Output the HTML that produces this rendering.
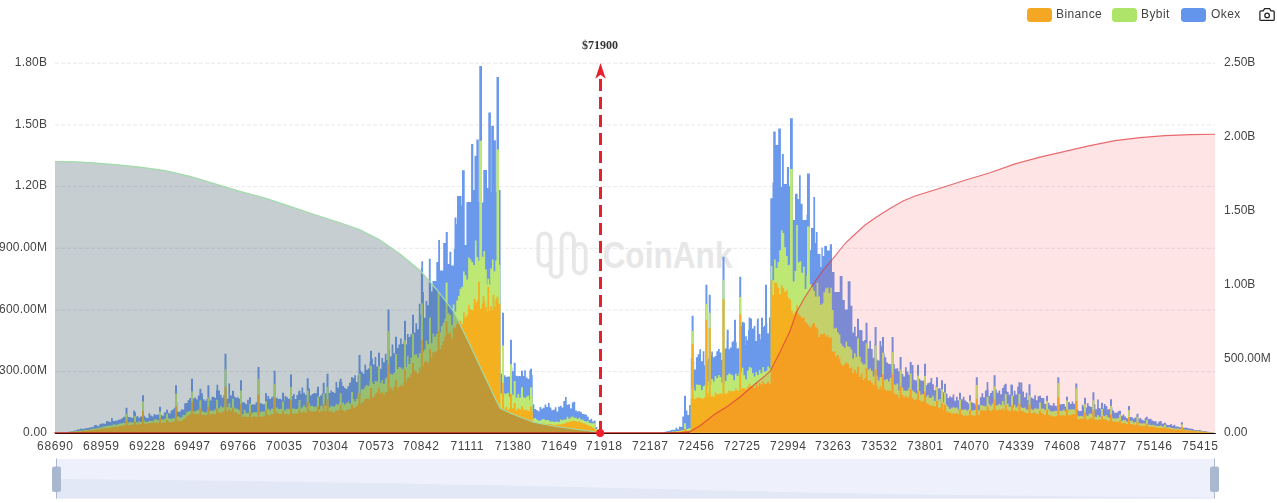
<!DOCTYPE html>
<html><head><meta charset="utf-8"><title>Liquidation Map</title>
<style>
html,body{margin:0;padding:0;background:#fff;}
body{width:1277px;height:503px;position:relative;overflow:hidden;font-family:"Liberation Sans",sans-serif;font-size:12px;color:#444;}
svg{position:absolute;left:0;top:0;}
.yl{position:absolute;left:-40px;width:87.2px;letter-spacing:.2px;text-align:right;height:16px;line-height:16px;white-space:nowrap;}
.yr{position:absolute;left:1223.5px;height:16px;line-height:16px;white-space:nowrap;}
.xl{position:absolute;top:438.4px;width:60px;text-align:center;height:16px;line-height:16px;letter-spacing:.6px;text-indent:.6px;}
.lg{position:absolute;top:6.4px;height:16px;line-height:16px;white-space:nowrap;letter-spacing:.4px;}
.yl,.yr,.xl,.lg,.mk{will-change:transform;}
.sw{position:absolute;top:8px;width:25px;height:14px;border-radius:3.5px;}
.mk{position:absolute;left:560px;width:80px;top:36.6px;text-align:center;font-family:"Liberation Serif",serif;font-weight:bold;font-size:12px;line-height:16px;color:#333;}
</style></head><body>
<svg width="1277" height="503" viewBox="0 0 1277 503">
<line x1="55" y1="371.63" x2="1215" y2="371.63" stroke="#e8e9ec" stroke-width="1" stroke-dasharray="4 2"/>
<line x1="55" y1="309.96" x2="1215" y2="309.96" stroke="#e8e9ec" stroke-width="1" stroke-dasharray="4 2"/>
<line x1="55" y1="248.29" x2="1215" y2="248.29" stroke="#e8e9ec" stroke-width="1" stroke-dasharray="4 2"/>
<line x1="55" y1="186.62" x2="1215" y2="186.62" stroke="#e8e9ec" stroke-width="1" stroke-dasharray="4 2"/>
<line x1="55" y1="124.95" x2="1215" y2="124.95" stroke="#e8e9ec" stroke-width="1" stroke-dasharray="4 2"/>
<line x1="55" y1="63.28" x2="1215" y2="63.28" stroke="#e8e9ec" stroke-width="1" stroke-dasharray="4 2"/>
<g opacity="1"><path d="M538.4,239.45 a6.15,6.15 0 0 1 12.3,0 V259.65 a6.15,6.15 0 0 1 -12.3,0 Z M550.7,259.65 V271.65 a5.45,5.45 0 0 0 10.9,0 V239.45 a6.15,6.15 0 0 1 12.3,0 V267.5 M573.9,249.8 a5.9,5.9 0 0 1 11.8,0 V267.5 a5.9,5.9 0 0 1 -11.8,0 Z" fill="none" stroke="#e7e7e7" stroke-width="3.8" stroke-linecap="round"/><text x="602.5" y="267.6" font-family="Liberation Sans, sans-serif" font-weight="bold" font-size="36" fill="#e7e7e7" textLength="130" lengthAdjust="spacingAndGlyphs">CoinAnk</text></g>
<path d="M55,432.8L55,432.8L56.7,432.8L56.7,432.8L58.4,432.8L58.4,432.8L60.1,432.8L60.1,432.8L61.8,432.8L61.8,432.8L63.5,432.8L63.5,432.8L65.2,432.8L65.2,432.8L66.9,432.8L66.9,432.3L68.6,432.3L68.6,431.7L70.3,431.7L70.3,431.4L72,431.4L72,431.2L73.7,431.2L73.7,430.4L75.4,430.4L75.4,430.3L77.1,430.3L77.1,429.5L78.8,429.5L78.8,429.2L80.5,429.2L80.5,428.6L82.2,428.6L82.2,429.1L83.9,429.1L83.9,428.4L85.6,428.4L85.6,428.2L87.3,428.2L87.3,428L89,428L89,427.5L90.7,427.5L90.7,427.2L92.4,427.2L92.4,426.8L94.1,426.8L94.1,425L95.8,425L95.8,425.3L97.5,425.3L97.5,426.2L99.2,426.2L99.2,424.3L100.9,424.3L100.9,423.4L102.6,423.4L102.6,423.4L104.3,423.4L104.3,423.7L106,423.7L106,421.1L107.7,421.1L107.7,421.6L109.4,421.6L109.4,422L111.1,422L111.1,418L112.8,418L112.8,421L114.5,421L114.5,420.8L116.2,420.8L116.2,420.4L117.9,420.4L117.9,419.7L119.6,419.7L119.6,419.2L121.3,419.2L121.3,418.2L123,418.2L123,416.8L124.7,416.8L124.7,417.1L125.5,417.1L125.5,407.8L126.4,407.8L126.4,407.8L127.5,407.8L127.5,415.4L128.1,415.4L128.1,416.9L129.8,416.9L129.8,417.2L131.5,417.2L131.5,418L133.2,418L133.2,410.6L134,410.6L134,410.6L134.9,410.6L134.9,412.3L136,412.3L136,417.2L136.6,417.2L136.6,415.9L138.3,415.9L138.3,417.8L140,417.8L140,416.5L141.7,416.5L141.7,416.5L142,416.5L142,395.3L143.4,395.3L143.4,395.3L144,395.3L144,415.7L145.1,415.7L145.1,417.5L146.8,417.5L146.8,418.1L148.5,418.1L148.5,413.3L150.2,413.3L150.2,415.5L151.9,415.5L151.9,416.4L153.6,416.4L153.6,414.1L155.3,414.1L155.3,415L157,415L157,414.6L158.7,414.6L158.7,414.7L159,414.7L159,406.8L160.4,406.8L160.4,406.8L161,406.8L161,415L162.1,415L162.1,415.8L163.8,415.8L163.8,412.6L165.5,412.6L165.5,412.4L166,412.4L166,409.8L167.2,409.8L167.2,409.8L168,409.8L168,412.7L168.9,412.7L168.9,413.6L170.6,413.6L170.6,410.5L172.3,410.5L172.3,409.3L174,409.3L174,407.8L175,407.8L175,385.2L175.7,385.2L175.7,385.2L177,385.2L177,402.6L177.4,402.6L177.4,411.8L179.1,411.8L179.1,411.6L180.8,411.6L180.8,409.5L182.5,409.5L182.5,409.6L184.2,409.6L184.2,403.3L185.9,403.3L185.9,402.9L187.6,402.9L187.6,400.3L189.3,400.3L189.3,398L191,398L191,393L191,393L191,378.8L192.7,378.8L192.7,378.8L193,378.8L193,398.6L194.4,398.6L194.4,397.4L196.1,397.4L196.1,399.5L197.8,399.5L197.8,395.6L199.4,395.6L199.4,388.8L199.5,388.8L199.5,388.8L201.2,388.8L201.2,388.8L201.4,388.8L201.4,393.3L202.9,393.3L202.9,399.2L204.6,399.2L204.6,400.7L206.3,400.7L206.3,399.1L207.4,399.1L207.4,385.2L208,385.2L208,385.2L209.4,385.2L209.4,397.7L209.7,397.7L209.7,400.5L211.4,400.5L211.4,396.8L213.1,396.8L213.1,396.9L214.8,396.9L214.8,398.1L216,398.1L216,390.2L216.5,390.2L216.5,384.7L218,384.7L218,384.7L218.2,384.7L218.2,390.5L219.9,390.5L219.9,394.8L221.6,394.8L221.6,397.8L223.3,397.8L223.3,395.2L224.5,395.2L224.5,353.8L225,353.8L225,353.8L226.5,353.8L226.5,390.9L226.7,390.9L226.7,398.7L228.4,398.7L228.4,383.4L230.1,383.4L230.1,395.5L231.8,395.5L231.8,395.1L232,395.1L232,390.8L233.5,390.8L233.5,390.8L234,390.8L234,396.4L235.2,396.4L235.2,397.8L236.9,397.8L236.9,397.3L238.6,397.3L238.6,398.7L240,398.7L240,380.2L240.3,380.2L240.3,380.2L242,380.2L242,380.2L242,380.2L242,402.3L243.7,402.3L243.7,402.6L245.4,402.6L245.4,404.2L247.1,404.2L247.1,399.8L248.8,399.8L248.8,403.4L249,403.4L249,397.2L250.5,397.2L250.5,397.2L251,397.2L251,404.8L252.2,404.8L252.2,404.3L253.9,404.3L253.9,404.6L255.6,404.6L255.6,402.2L257.3,402.2L257.3,400.7L257.5,400.7L257.5,367.1L259,367.1L259,367.1L259.5,367.1L259.5,403.1L260.7,403.1L260.7,403.4L262.4,403.4L262.4,404.2L264.1,404.2L264.1,404.3L265,404.3L265,393.2L265.8,393.2L265.8,393.2L267,393.2L267,399.1L267.5,399.1L267.5,395.9L269.2,395.9L269.2,398.9L270.9,398.9L270.9,397.5L272.6,397.5L272.6,396.2L273.6,396.2L273.6,370.8L274.3,370.8L274.3,370.8L275.6,370.8L275.6,399.3L276,399.3L276,397.7L277.7,397.7L277.7,398.9L279.4,398.9L279.4,398.7L281.1,398.7L281.1,400L282,400L282,392.8L282.8,392.8L282.8,392.8L284,392.8L284,400.7L284.5,400.7L284.5,395.9L286.2,395.9L286.2,397.3L287.9,397.3L287.9,398.8L289.6,398.8L289.6,398.9L290,398.9L290,374.4L291.3,374.4L291.3,374.4L292,374.4L292,396L293,396L293,394.1L294.7,394.1L294.7,399L296.4,399L296.4,395L298.1,395L298.1,391.8L298.5,391.8L298.5,390.8L299.8,390.8L299.8,390.8L300.5,390.8L300.5,394.1L301.5,394.1L301.5,387.5L303.2,387.5L303.2,392.7L304.9,392.7L304.9,394.8L306.6,394.8L306.6,394.5L306.7,394.5L306.7,378.2L308.3,378.2L308.3,378.2L308.7,378.2L308.7,388.6L310,388.6L310,395.5L311.7,395.5L311.7,394.1L313.4,394.1L313.4,392.9L315.1,392.9L315.1,393.2L316.8,393.2L316.8,389.8L317,389.8L317,386.8L318.5,386.8L318.5,386.8L319,386.8L319,397.1L320.2,397.1L320.2,395.3L321.9,395.3L321.9,392.9L322.7,392.9L322.7,382.8L323.6,382.8L323.6,382.8L324.7,382.8L324.7,394L325.3,394L325.3,393.3L326.5,393.3L326.5,373.8L327,373.8L327,373.8L328.5,373.8L328.5,391.3L328.7,391.3L328.7,393L330.4,393L330.4,390.6L332.1,390.6L332.1,392L333.8,392L333.8,393L335.5,393L335.5,381.9L337.2,381.9L337.2,387.7L338.9,387.7L338.9,381.5L339.7,381.5L339.7,378.8L340.6,378.8L340.6,378.8L341.7,378.8L341.7,382.3L342.3,382.3L342.3,385.9L344,385.9L344,387.8L345.7,387.8L345.7,389L347.4,389L347.4,386.2L349.1,386.2L349.1,382.5L350.8,382.5L350.8,382.7L351,382.7L351,377.2L352.5,377.2L352.5,377.2L353,377.2L353,378.3L354.2,378.3L354.2,375.3L355.9,375.3L355.9,382L357.6,382L357.6,375.4L358.5,375.4L358.5,355.1L359.3,355.1L359.3,355.1L360.5,355.1L360.5,370.2L361,370.2L361,372L362.7,372L362.7,373.7L364.4,373.7L364.4,364.6L366.1,364.6L366.1,369.7L367.8,369.7L367.8,368.6L369.5,368.6L369.5,361.6L370,361.6L370,350.8L371.2,350.8L371.2,350.8L372,350.8L372,358.7L372.9,358.7L372.9,364.6L374.6,364.6L374.6,357L376.3,357L376.3,366.6L378,366.6L378,359.3L378,359.3L378,352.8L379.7,352.8L379.7,352.8L380,352.8L380,368.7L381.4,368.7L381.4,357.9L383.1,357.9L383.1,362.2L384.8,362.2L384.8,353.7L386.5,353.7L386.5,360.1L387.5,360.1L387.5,309.4L388.2,309.4L388.2,309.4L389.5,309.4L389.5,349.1L389.9,349.1L389.9,356.4L391.6,356.4L391.6,344.4L393.3,344.4L393.3,353.2L395,353.2L395,356L395,356L395,336.8L396.7,336.8L396.7,336.8L397,336.8L397,347.9L398.4,347.9L398.4,344.6L400.1,344.6L400.1,338.6L401.8,338.6L401.8,343.9L403.5,343.9L403.5,341.1L404,341.1L404,320.8L405.2,320.8L405.2,320.8L406,320.8L406,344.5L406.9,344.5L406.9,334.1L408.6,334.1L408.6,337L410.3,337L410.3,334.2L412,334.2L412,331.7L412,331.7L412,314.8L413.7,314.8L413.7,314.8L414,314.8L414,332.8L415.4,332.8L415.4,323.3L417.1,323.3L417.1,329.3L418.8,329.3L418.8,303.8L420.5,303.8L420.5,314.4L420.9,314.4L420.9,267.8L421.3,267.8L421.3,261.2L422.2,261.2L422.2,261.2L422.9,261.2L422.9,261.2L423.1,261.2L423.1,292L423.9,292L423.9,317.7L425.6,317.7L425.6,301L427.3,301L427.3,305.3L428.8,305.3L428.8,258.7L429,258.7L429,258.7L429,258.7L429,258.7L430.7,258.7L430.7,258.7L430.7,258.7L430.7,282.8L431,282.8L431,291.5L432.4,291.5L432.4,292.2L432.5,292.2L432.5,281L434.1,281L434.1,281L435.8,281L435.8,281L436.3,281L436.3,262L437.5,262L437.5,262L437.6,262L437.6,262L438.2,262L438.2,240L439.2,240L439.2,240L439.6,240L439.6,240L440,240L440,270.6L440.9,270.6L440.9,270.6L442.6,270.6L442.6,270.6L443.2,270.6L443.2,243L444.3,243L444.3,243L445.6,243L445.6,243L445.7,243L445.7,232L446,232L446,232L447.6,232L447.6,232L447.7,232L447.7,232L447.8,232L447.8,264L449.4,264L449.4,264L449.4,264L449.4,251.8L451.1,251.8L451.1,251.8L451.3,251.8L451.3,265.6L452.8,265.6L452.8,265.6L453.8,265.6L453.8,249.2L454.5,249.2L454.5,240.3L454.5,240.3L454.5,217.6L456.2,217.6L456.2,217.6L456.5,217.6L456.5,224.2L457,224.2L457,196L457.9,196L457.9,196L459.6,196L459.6,196L461.3,196L461.3,196L461.5,196L461.5,205.5L462,205.5L462,170.3L463,170.3L463,170.3L464.7,170.3L464.7,170.3L464.7,170.3L464.7,245L466.4,245L466.4,245L466.4,245L466.4,202L468.1,202L468.1,202L469.8,202L469.8,202L471.1,202L471.1,144L471.5,144L471.5,144L473.2,144L473.2,144L473.3,144L473.3,190L473.6,190L473.6,190L474.5,190L474.5,155.8L474.9,155.8L474.9,155.8L475.4,155.8L475.4,155.8L476.4,155.8L476.4,139.6L476.6,139.6L476.6,139.6L478.1,139.6L478.1,139.6L478.3,139.6L478.3,139.6L478.8,139.6L478.8,202L479.3,202L479.3,66L479.9,66L479.9,66L480,66L480,66L481.7,66L481.7,66L482,66L482,202.5L482.6,202.5L482.6,202.5L483.3,202.5L483.3,170L483.4,170L483.4,170L484.4,170L484.4,170L485.1,170L485.1,170L486.8,170L486.8,170L487,170L487,188L487.4,188L487.4,188L488.3,188L488.3,112.5L488.5,112.5L488.5,112.5L489.2,112.5L489.2,112.5L490.2,112.5L490.2,112.5L490.9,112.5L490.9,191.9L491.2,191.9L491.2,125.8L491.9,125.8L491.9,125.8L492.6,125.8L492.6,125.8L493.6,125.8L493.6,125.8L493.9,125.8L493.9,140.2L494.4,140.2L494.4,140.2L495.3,140.2L495.3,140.2L495.9,140.2L495.9,191.7L496.5,191.7L496.5,77L496.6,77L496.6,77L497,77L497,77L498.4,77L498.4,77L498.7,77L498.7,77L499,77L499,190L500.4,190L500.4,190L500.6,190L500.6,373.5L502,373.5L502,312.8L502.1,312.8L502.1,312.8L503.8,312.8L503.8,312.8L504,312.8L504,375.2L505.5,375.2L505.5,376.9L507.2,376.9L507.2,376.5L508.9,376.5L508.9,376.6L510,376.6L510,339.8L510.6,339.8L510.6,339.8L512,339.8L512,367.6L512.3,367.6L512.3,371.3L513.7,371.3L513.7,362.8L514,362.8L514,362.8L515.7,362.8L515.7,362.8L515.7,362.8L515.7,375.8L517.4,375.8L517.4,376.2L519.1,376.2L519.1,375.9L520.8,375.9L520.8,377.1L521,377.1L521,370.8L522.5,370.8L522.5,370.8L523,370.8L523,376L524.2,376L524.2,370.3L525.9,370.3L525.9,377.4L527.6,377.4L527.6,378.9L529.3,378.9L529.3,370.5L530,370.5L530,368.8L531,368.8L531,368.8L532,368.8L532,374.9L532.7,374.9L532.7,404.2L534.4,404.2L534.4,409L536.1,409L536.1,409.9L537.8,409.9L537.8,411.2L539.5,411.2L539.5,406.9L541.2,406.9L541.2,408.8L542.9,408.8L542.9,407.8L544.6,407.8L544.6,404.6L546.3,404.6L546.3,407L548,407L548,403.1L549.7,403.1L549.7,407.5L551.4,407.5L551.4,410.3L553.1,410.3L553.1,409.8L554.8,409.8L554.8,407.3L556.5,407.3L556.5,411.5L558.2,411.5L558.2,406.7L559.9,406.7L559.9,405.8L561.6,405.8L561.6,407.6L563.3,407.6L563.3,400.9L565,400.9L565,396.9L566.7,396.9L566.7,404.8L568.4,404.8L568.4,404.3L570.1,404.3L570.1,408.5L571.8,408.5L571.8,402.5L573.5,402.5L573.5,401.8L575.2,401.8L575.2,410.6L576.9,410.6L576.9,411.5L578.6,411.5L578.6,411.1L580.3,411.1L580.3,412.3L582,412.3L582,414.1L583.7,414.1L583.7,414.3L585.4,414.3L585.4,414.8L587.1,414.8L587.1,416.7L588.8,416.7L588.8,420L590.5,420L590.5,418.8L592.2,418.8L592.2,421.5L593.9,421.5L593.9,420.4L595.6,420.4L595.6,426.9L597.3,426.9L597.3,430.6L599,430.6L599,432.8L600.7,432.8L600.7,432.8L602.4,432.8L602.4,432.8L604.1,432.8L604.1,432.8L605.8,432.8L605.8,432.8L607.5,432.8L607.5,432.8L609.2,432.8L609.2,432.8L610.9,432.8L610.9,432.8L612.6,432.8L612.6,432.8L614.3,432.8L614.3,432.8L616,432.8L616,432.8L617.7,432.8L617.7,432.8L619.4,432.8L619.4,432.8L621.1,432.8L621.1,432.8L622.8,432.8L622.8,432.8L624.5,432.8L624.5,432.8L626.2,432.8L626.2,432.8L627.9,432.8L627.9,432.8L629.6,432.8L629.6,432.8L631.3,432.8L631.3,432.8L633,432.8L633,432.8L634.7,432.8L634.7,432.8L636.4,432.8L636.4,432.8L638.1,432.8L638.1,432.8L639.8,432.8L639.8,432.8L641.5,432.8L641.5,432.8L643.2,432.8L643.2,432.8L644.9,432.8L644.9,432.8L646.6,432.8L646.6,432.8L648.3,432.8L648.3,432.8L650,432.8L650,432.8L651.7,432.8L651.7,432.8L653.4,432.8L653.4,432.8L655.1,432.8L655.1,432.8L656.8,432.8L656.8,432.8L658.5,432.8L658.5,432.8L660.2,432.8L660.2,432.7L661.9,432.7L661.9,432.4L663.6,432.4L663.6,432.3L665.3,432.3L665.3,431.5L667,431.5L667,431.3L668.7,431.3L668.7,430.9L670.4,430.9L670.4,430.1L672.1,430.1L672.1,429.8L673.8,429.8L673.8,429.8L675.5,429.8L675.5,427.8L677.2,427.8L677.2,429.3L678.9,429.3L678.9,426.6L680.6,426.6L680.6,426.9L682.3,426.9L682.3,416.6L684,416.6L684,395.8L684,395.8L684,395.8L685.7,395.8L685.7,395.8L686,395.8L686,410.5L687.4,410.5L687.4,415L689.1,415L689.1,405.1L690.8,405.1L690.8,357.9L691.6,357.9L691.6,315.8L692.5,315.8L692.5,315.8L693.6,315.8L693.6,361.1L694.2,361.1L694.2,369.6L695.9,369.6L695.9,357.3L697.6,357.3L697.6,354.2L699.3,354.2L699.3,349.2L701,349.2L701,361.2L702.7,361.2L702.7,351.2L704.4,351.2L704.4,365.5L705.4,365.5L705.4,284.8L706.1,284.8L706.1,284.8L707.4,284.8L707.4,360.5L707.8,360.5L707.8,358.4L708.7,358.4L708.7,294.8L709.5,294.8L709.5,294.8L710.7,294.8L710.7,355.4L711.2,355.4L711.2,351.6L712.9,351.6L712.9,357.3L714.6,357.3L714.6,356.1L716.3,356.1L716.3,351.2L718,351.2L718,349L719.7,349L719.7,352.5L721.4,352.5L721.4,359.9L722.5,359.9L722.5,256.8L723.1,256.8L723.1,256.8L724.5,256.8L724.5,350.9L724.8,350.9L724.8,348.6L726.5,348.6L726.5,340.3L726.7,340.3L726.7,329.8L728.2,329.8L728.2,329.8L728.7,329.8L728.7,349.3L729.9,349.3L729.9,347.4L731.6,347.4L731.6,341.7L733.3,341.7L733.3,340.4L734,340.4L734,319.8L735,319.8L735,319.8L736,319.8L736,342.3L736.7,342.3L736.7,348.6L738.4,348.6L738.4,347.4L739.2,347.4L739.2,276.8L740.1,276.8L740.1,276.8L741.2,276.8L741.2,325.5L741.8,325.5L741.8,321.7L743,321.7L743,321.7L743.5,321.7L743.5,322.8L745,322.8L745,344.9L745.2,344.9L745.2,336.3L746.9,336.3L746.9,340.2L748,340.2L748,329.8L748.6,329.8L748.6,317.6L750,317.6L750,317.6L750.3,317.6L750.3,318.6L752,318.6L752,328.4L753.7,328.4L753.7,326L755.4,326L755.4,340.9L756.8,340.9L756.8,319.8L757.1,319.8L757.1,318.6L758.8,318.6L758.8,318.6L758.8,318.6L758.8,333.9L760.5,333.9L760.5,339.5L761,339.5L761,317.8L762.2,317.8L762.2,317.8L763,317.8L763,327.1L763.9,327.1L763.9,325.7L765,325.7L765,284.8L765.6,284.8L765.6,284.8L767,284.8L767,322.9L767.3,322.9L767.3,333.3L769,333.3L769,317.6L770.3,317.6L770.3,198.2L770.7,198.2L770.7,198.2L772.4,198.2L772.4,198.2L772.5,198.2L772.5,182.5L773.2,182.5L773.2,131.4L774.1,131.4L774.1,131.4L775.7,131.4L775.7,145L775.8,145L775.8,145L777.5,145L777.5,145L778.2,145L778.2,128.5L779.2,128.5L779.2,128.5L780.9,128.5L780.9,187L780.9,187L780.9,187L781.9,187L781.9,154L782.6,154L782.6,154L783.8,154L783.8,184L784.3,184L784.3,184L786,184L786,184L786.9,184L786.9,167L787.7,167L787.7,167L789,167L789,186L789.4,186L789.4,186L790,186L790,118.3L791.1,118.3L791.1,118.3L792.8,118.3L792.8,220L792.8,220L792.8,220L794.5,220L794.5,220L795,220L795,193.8L796.2,193.8L796.2,193.8L797.6,193.8L797.6,199L797.9,199L797.9,199L799,199L799,175.3L799.6,175.3L799.6,175.3L800.7,175.3L800.7,203.8L801.3,203.8L801.3,203.8L802.6,203.8L802.6,220L803,220L803,220L804.7,220L804.7,220L806.4,220L806.4,220L806.5,220L806.5,214.7L807,214.7L807,173.4L808.1,173.4L808.1,173.4L809.8,173.4L809.8,173.4L809.9,173.4L809.9,250L811,250L811,228L811.5,228L811.5,228L813.2,228L813.2,228L813.4,228L813.4,197L814.9,197L814.9,197L815.1,197L815.1,243L815.8,243L815.8,232L816.6,232L816.6,232L817.6,232L817.6,254L818.3,254L818.3,254L820,254L820,254L820.5,254L820.5,267L821.4,267L821.4,247.6L821.7,247.6L821.7,247.6L822.8,247.6L822.8,256L823.4,256L823.4,256L824.2,256L824.2,246L825.1,246L825.1,246L826.8,246L826.8,246L827,246L827,250.4L828.5,250.4L828.5,250.4L829.8,250.4L829.8,244.3L830.2,244.3L830.2,244.3L831.9,244.3L831.9,244.3L832,244.3L832,272L833.6,272L833.6,272L834.5,272L834.5,292L835.3,292L835.3,292L837,292L837,292L838.7,292L838.7,292L839.7,292L839.7,276L840.4,276L840.4,276L842.1,276L842.1,276L842.5,276L842.5,300L843.8,300L843.8,300L844.8,300L844.8,309.5L845.5,309.5L845.5,309.5L847.2,309.5L847.2,309.5L847.7,309.5L847.7,281.3L848.9,281.3L848.9,281.3L850.5,281.3L850.5,305.7L850.6,305.7L850.6,305.7L852.3,305.7L852.3,305.7L852.4,305.7L852.4,332.6L854,332.6L854,326.8L855.7,326.8L855.7,336.6L857,336.6L857,318.8L857.4,318.8L857.4,318.8L859,318.8L859,339.2L859.1,339.2L859.1,329.9L860.8,329.9L860.8,330.3L862.5,330.3L862.5,341.3L864.2,341.3L864.2,340.1L865.5,340.1L865.5,322.8L865.9,322.8L865.9,322.8L867.5,322.8L867.5,331.8L867.6,331.8L867.6,348.5L869.3,348.5L869.3,340.8L871,340.8L871,349.1L872.7,349.1L872.7,357.8L874.4,357.8L874.4,344.1L874.6,344.1L874.6,327L876.1,327L876.1,327L876.6,327L876.6,359.4L877.8,359.4L877.8,360.4L879.5,360.4L879.5,340.9L881.2,340.9L881.2,346.2L882,346.2L882,337.1L882.9,337.1L882.9,337.1L884,337.1L884,353.2L884.6,353.2L884.6,357.3L886.3,357.3L886.3,362.5L888,362.5L888,363.8L889.7,363.8L889.7,364.3L891.4,364.3L891.4,371.6L891.6,371.6L891.6,337.1L893.1,337.1L893.1,337.1L893.6,337.1L893.6,364.2L894.8,364.2L894.8,368.7L896.5,368.7L896.5,368.2L898.2,368.2L898.2,371.3L899.6,371.3L899.6,357.1L899.9,357.1L899.9,357.1L901.6,357.1L901.6,366.4L901.6,366.4L901.6,373.7L903.3,373.7L903.3,376.4L905,376.4L905,367.2L906.7,367.2L906.7,371.5L908.4,371.5L908.4,374.7L909.7,374.7L909.7,362.1L910.1,362.1L910.1,362.1L911.7,362.1L911.7,377L911.8,377L911.8,365L913.5,365L913.5,379.7L915.2,379.7L915.2,380.5L916.9,380.5L916.9,375.3L917,375.3L917,364.8L918.6,364.8L918.6,364.8L919,364.8L919,378.8L920.3,378.8L920.3,380.5L922,380.5L922,380.8L923.7,380.8L923.7,380.1L924,380.1L924,363.8L925.4,363.8L925.4,363.8L926,363.8L926,385.2L927.1,385.2L927.1,383.2L928.8,383.2L928.8,382.6L930.5,382.6L930.5,378L932.2,378L932.2,384.3L933.9,384.3L933.9,390.3L935.6,390.3L935.6,385.5L936,385.5L936,377.2L937.3,377.2L937.3,377.2L938,377.2L938,388.5L939,388.5L939,388.2L940.7,388.2L940.7,390.9L941,390.9L941,380.2L942.4,380.2L942.4,380.2L943,380.2L943,392.2L944,392.2L944,383.8L944.1,383.8L944.1,383.8L945.8,383.8L945.8,383.8L946,383.8L946,393.6L947.5,393.6L947.5,397.9L949.2,397.9L949.2,396.2L950.9,396.2L950.9,397.5L952.6,397.5L952.6,394.5L954.3,394.5L954.3,400.7L956,400.7L956,396.7L957.7,396.7L957.7,400.3L959,400.3L959,392.8L959.4,392.8L959.4,392.8L961,392.8L961,403.1L961.1,403.1L961.1,399.2L962.8,399.2L962.8,396.8L964.5,396.8L964.5,400.5L966.2,400.5L966.2,402L967.9,402L967.9,403.5L969,403.5L969,395.2L969.6,395.2L969.6,395.2L971,395.2L971,400.9L971.3,400.9L971.3,402.5L973,402.5L973,403L974.7,403L974.7,404.5L975.8,404.5L975.8,377.2L976.4,377.2L976.4,377.2L977.8,377.2L977.8,405.4L978.1,405.4L978.1,404.8L979.8,404.8L979.8,397.3L981.5,397.3L981.5,393.2L983.2,393.2L983.2,397.2L984.9,397.2L984.9,390.4L986.6,390.4L986.6,388.8L986.6,388.8L986.6,381.9L988.3,381.9L988.3,388.8L988.6,388.8L988.6,396.1L990,396.1L990,393.1L991.7,393.1L991.7,390.8L993.4,390.8L993.4,395.6L993.6,395.6L993.6,375.2L995.1,375.2L995.1,375.2L995.6,375.2L995.6,389.6L996.8,389.6L996.8,392.8L998.5,392.8L998.5,390.6L1000.2,390.6L1000.2,394.2L1001.9,394.2L1001.9,387.9L1003.6,387.9L1003.6,385.2L1004.7,385.2L1004.7,383.8L1005.3,383.8L1005.3,383.8L1006.7,383.8L1006.7,391.2L1007,391.2L1007,391.7L1008.7,391.7L1008.7,394.8L1010.4,394.8L1010.4,384.5L1011,384.5L1011,384.5L1012.1,384.5L1012.1,384.8L1013,384.8L1013,395.9L1013.8,395.9L1013.8,390.8L1015.5,390.8L1015.5,394.4L1017.2,394.4L1017.2,386.8L1018.4,386.8L1018.4,382.2L1018.9,382.2L1018.9,382.2L1020.4,382.2L1020.4,389.1L1020.6,389.1L1020.6,382.5L1022.3,382.5L1022.3,391.5L1024,391.5L1024,397.2L1025.7,397.2L1025.7,392.7L1027.4,392.7L1027.4,399.9L1028.5,399.9L1028.5,384.2L1029.1,384.2L1029.1,384.2L1030.5,384.2L1030.5,398.8L1030.8,398.8L1030.8,397.6L1032.5,397.6L1032.5,398.8L1034.2,398.8L1034.2,395.3L1035.9,395.3L1035.9,400.2L1037.6,400.2L1037.6,396.3L1039,396.3L1039,395.8L1039.3,395.8L1039.3,395.8L1041,395.8L1041,402.9L1041,402.9L1041,398.1L1042.7,398.1L1042.7,398L1044.4,398L1044.4,404L1046,404L1046,395.8L1046.1,395.8L1046.1,395.8L1047.8,395.8L1047.8,395.8L1048,395.8L1048,402.8L1049.5,402.8L1049.5,405.2L1051.2,405.2L1051.2,405.5L1052.9,405.5L1052.9,403L1054.6,403L1054.6,405.8L1056.3,405.8L1056.3,406.2L1057.3,406.2L1057.3,377.2L1058,377.2L1058,377.2L1059.3,377.2L1059.3,403.4L1059.7,403.4L1059.7,404.4L1061.4,404.4L1061.4,404.1L1063.1,404.1L1063.1,404L1064.8,404L1064.8,406.4L1066,406.4L1066,396.8L1066.5,396.8L1066.5,396.8L1068,396.8L1068,402.9L1068.2,402.9L1068.2,401.9L1069.9,401.9L1069.9,403.9L1071.6,403.9L1071.6,401.6L1073.3,401.6L1073.3,403.8L1075,403.8L1075,401.5L1075.3,401.5L1075.3,383.4L1076.7,383.4L1076.7,383.4L1077.3,383.4L1077.3,409.3L1078.4,409.3L1078.4,410.9L1080.1,410.9L1080.1,411L1081.8,411L1081.8,404.8L1083.5,404.8L1083.5,406.8L1084,406.8L1084,397.8L1085.2,397.8L1085.2,397.8L1086,397.8L1086,407.6L1086.9,407.6L1086.9,403.2L1088.6,403.2L1088.6,405.9L1090.3,405.9L1090.3,406.9L1092,406.9L1092,410.2L1092.4,410.2L1092.4,392.2L1093.7,392.2L1093.7,392.2L1094.4,392.2L1094.4,404.3L1095.4,404.3L1095.4,409.2L1097.1,409.2L1097.1,399.4L1098.8,399.4L1098.8,408L1100.5,408L1100.5,409.7L1101,409.7L1101,402.8L1102.2,402.8L1102.2,402.8L1103,402.8L1103,408.4L1103.9,408.4L1103.9,404L1105.6,404L1105.6,406L1107.3,406L1107.3,409.5L1109,409.5L1109,409.1L1110,409.1L1110,399.2L1110.7,399.2L1110.7,399.2L1112,399.2L1112,407.3L1112.4,407.3L1112.4,410.5L1114.1,410.5L1114.1,412.8L1115.8,412.8L1115.8,412.7L1117.5,412.7L1117.5,411.3L1119,411.3L1119,410.8L1119.2,410.8L1119.2,410.8L1120.9,410.8L1120.9,410.8L1121,410.8L1121,415.7L1122.6,415.7L1122.6,414.4L1124.3,414.4L1124.3,416.6L1126,416.6L1126,418L1127.7,418L1127.7,419L1128,419L1128,406L1129.4,406L1129.4,406L1130,406L1130,416.9L1131.1,416.9L1131.1,417.2L1132.8,417.2L1132.8,418.8L1134.5,418.8L1134.5,417.4L1136.2,417.4L1136.2,416.7L1136.5,416.7L1136.5,413.8L1137.9,413.8L1137.9,413.8L1138.5,413.8L1138.5,418.7L1139.6,418.7L1139.6,417.9L1141.3,417.9L1141.3,419.7L1143,419.7L1143,420.4L1144.7,420.4L1144.7,418L1145.8,418L1145.8,416.8L1146.4,416.8L1146.4,416.8L1147.8,416.8L1147.8,420.2L1148.1,420.2L1148.1,418.9L1149.8,418.9L1149.8,418.7L1151.5,418.7L1151.5,420.4L1153.2,420.4L1153.2,421.2L1154.9,421.2L1154.9,421.2L1156.6,421.2L1156.6,423.5L1158.3,423.5L1158.3,421.4L1160,421.4L1160,420.9L1161.7,420.9L1161.7,423.6L1163.4,423.6L1163.4,423.7L1164,423.7L1164,422.8L1165.1,422.8L1165.1,422.8L1166,422.8L1166,424.3L1166.8,424.3L1166.8,425L1168.5,425L1168.5,425L1170.2,425L1170.2,424.1L1171.9,424.1L1171.9,425.7L1173.6,425.7L1173.6,424.8L1175.3,424.8L1175.3,426.6L1177,426.6L1177,426.4L1178.7,426.4L1178.7,427.2L1180.4,427.2L1180.4,427.6L1180.9,427.6L1180.9,422.3L1182.1,422.3L1182.1,422.3L1182.9,422.3L1182.9,427.8L1183.8,427.8L1183.8,427.8L1185.5,427.8L1185.5,427.5L1187.2,427.5L1187.2,428.3L1188.9,428.3L1188.9,428.6L1190.6,428.6L1190.6,428.7L1192.3,428.7L1192.3,429L1194,429L1194,429.9L1195.7,429.9L1195.7,430.1L1197.4,430.1L1197.4,430.3L1199.1,430.3L1199.1,429.9L1200.8,429.9L1200.8,430.7L1202.5,430.7L1202.5,430.9L1204.2,430.9L1204.2,431.1L1205.9,431.1L1205.9,431.6L1207.6,431.6L1207.6,431.8L1209.3,431.8L1209.3,432L1211,432L1211,432.3L1212.7,432.3L1212.7,432.6L1214.4,432.6L1214.4,432.8L1215,432.8L1215,432.8Z" fill="#6a98eb"/>
<path d="M55,432.8L55,432.8L56.7,432.8L56.7,432.8L58.4,432.8L58.4,432.8L60.1,432.8L60.1,432.8L61.8,432.8L61.8,432.8L63.5,432.8L63.5,432.8L65.2,432.8L65.2,432.8L66.9,432.8L66.9,432.4L68.6,432.4L68.6,432.1L70.3,432.1L70.3,431.8L72,431.8L72,431.6L73.7,431.6L73.7,431.3L75.4,431.3L75.4,431.1L77.1,431.1L77.1,431L78.8,431L78.8,430.6L80.5,430.6L80.5,430.4L82.2,430.4L82.2,430.5L83.9,430.5L83.9,429.9L85.6,429.9L85.6,429.8L87.3,429.8L87.3,429.7L89,429.7L89,429.4L90.7,429.4L90.7,428.9L92.4,428.9L92.4,428.5L94.1,428.5L94.1,428.5L95.8,428.5L95.8,428.2L97.5,428.2L97.5,428.1L99.2,428.1L99.2,427.5L100.9,427.5L100.9,427.3L102.6,427.3L102.6,426.4L104.3,426.4L104.3,426.6L106,426.6L106,426L107.7,426L107.7,425.7L109.4,425.7L109.4,425.6L111.1,425.6L111.1,425.5L112.8,425.5L112.8,424.3L114.5,424.3L114.5,424.7L116.2,424.7L116.2,424.7L117.9,424.7L117.9,423.9L119.6,423.9L119.6,423.6L121.3,423.6L121.3,423.3L123,423.3L123,422.8L124.7,422.8L124.7,423.5L125.5,423.5L125.5,413.9L126.4,413.9L126.4,413.9L127.5,413.9L127.5,422.5L128.1,422.5L128.1,422.4L129.8,422.4L129.8,422L131.5,422L131.5,422.6L133.2,422.6L133.2,422.4L134,422.4L134,416.3L134.9,416.3L134.9,416.3L136,416.3L136,421.9L136.6,421.9L136.6,422.4L138.3,422.4L138.3,421.3L140,421.3L140,421.9L141.7,421.9L141.7,421.4L142,421.4L142,401.6L143.4,401.6L143.4,401.6L144,401.6L144,420.5L145.1,420.5L145.1,421.9L146.8,421.9L146.8,421.8L148.5,421.8L148.5,420.8L150.2,420.8L150.2,420.9L151.9,420.9L151.9,421.3L153.6,421.3L153.6,419.6L155.3,419.6L155.3,419.3L157,419.3L157,419.9L158.7,419.9L158.7,420L159,420L159,411.4L160.4,411.4L160.4,411.4L161,411.4L161,419.3L162.1,419.3L162.1,419.8L163.8,419.8L163.8,419.1L165.5,419.1L165.5,418L166,418L166,413.8L167.2,413.8L167.2,413.8L168,413.8L168,417.9L168.9,417.9L168.9,418.7L170.6,418.7L170.6,419.1L172.3,419.1L172.3,418.3L174,418.3L174,418.2L175,418.2L175,393.4L175.7,393.4L175.7,393.4L177,393.4L177,416.6L177.4,416.6L177.4,416.6L179.1,416.6L179.1,417.6L180.8,417.6L180.8,417.3L182.5,417.3L182.5,415.1L184.2,415.1L184.2,414.9L185.9,414.9L185.9,412.2L187.6,412.2L187.6,411.4L189.3,411.4L189.3,410.7L191,410.7L191,410.2L191,410.2L191,391.4L192.7,391.4L192.7,391.4L193,391.4L193,411.1L194.4,411.1L194.4,411.6L196.1,411.6L196.1,410.2L197.8,410.2L197.8,409.8L199.4,409.8L199.4,400.2L199.5,400.2L199.5,400.2L201.2,400.2L201.2,400.2L201.4,400.2L201.4,411.2L202.9,411.2L202.9,411.7L204.6,411.7L204.6,412.5L206.3,412.5L206.3,411.6L207.4,411.6L207.4,397.6L208,397.6L208,397.6L209.4,397.6L209.4,411.8L209.7,411.8L209.7,410.7L211.4,410.7L211.4,410.6L213.1,410.6L213.1,410.4L214.8,410.4L214.8,408.9L216,408.9L216,399.8L216.5,399.8L216.5,399.8L218,399.8L218,408.8L218.2,408.8L218.2,408.3L219.9,408.3L219.9,406.2L221.6,406.2L221.6,407.4L223.3,407.4L223.3,406.9L224.5,406.9L224.5,369.4L225,369.4L225,369.4L226.5,369.4L226.5,406.6L226.7,406.6L226.7,407.3L228.4,407.3L228.4,403.2L230.1,403.2L230.1,407.7L231.8,407.7L231.8,405.5L232,405.5L232,398.7L233.5,398.7L233.5,398.7L234,398.7L234,407.6L235.2,407.6L235.2,408.6L236.9,408.6L236.9,408.9L238.6,408.9L238.6,410.2L240,410.2L240,390.5L240.3,390.5L240.3,390.5L242,390.5L242,390.5L242,390.5L242,414.3L243.7,414.3L243.7,409.8L245.4,409.8L245.4,412.8L247.1,412.8L247.1,413.2L248.8,413.2L248.8,411.3L249,411.3L249,403.8L250.5,403.8L250.5,403.8L251,403.8L251,413.4L252.2,413.4L252.2,412.3L253.9,412.3L253.9,412.1L255.6,412.1L255.6,412.3L257.3,412.3L257.3,411.7L257.5,411.7L257.5,378.8L259,378.8L259,378.8L259.5,378.8L259.5,412.5L260.7,412.5L260.7,411.2L262.4,411.2L262.4,411.5L264.1,411.5L264.1,411.5L265,411.5L265,401L265.8,401L265.8,401L267,401L267,409.6L267.5,409.6L267.5,408.7L269.2,408.7L269.2,410.6L270.9,410.6L270.9,408.6L272.6,408.6L272.6,409.1L273.6,409.1L273.6,384L274.3,384L274.3,384L275.6,384L275.6,408.4L276,408.4L276,407.5L277.7,407.5L277.7,409.1L279.4,409.1L279.4,409.1L281.1,409.1L281.1,408.7L282,408.7L282,401.4L282.8,401.4L282.8,401.4L284,401.4L284,409.5L284.5,409.5L284.5,410.6L286.2,410.6L286.2,408.7L287.9,408.7L287.9,408.8L289.6,408.8L289.6,409.4L290,409.4L290,387L291.3,387L291.3,387L292,387L292,408.4L293,408.4L293,408.6L294.7,408.6L294.7,409L296.4,409L296.4,409L298.1,409L298.1,407.4L298.5,407.4L298.5,400.1L299.8,400.1L299.8,400.1L300.5,400.1L300.5,408.4L301.5,408.4L301.5,407.2L303.2,407.2L303.2,405.3L304.9,405.3L304.9,407.3L306.6,407.3L306.6,406.4L306.7,406.4L306.7,390.5L308.3,390.5L308.3,390.5L308.7,390.5L308.7,403.2L310,403.2L310,405.9L311.7,405.9L311.7,405.7L313.4,405.7L313.4,407.1L315.1,407.1L315.1,406.3L316.8,406.3L316.8,406.8L317,406.8L317,396.8L318.5,396.8L318.5,396.8L319,396.8L319,408.9L320.2,408.9L320.2,405.8L321.9,405.8L321.9,407L322.7,407L322.7,393.4L323.6,393.4L323.6,393.4L324.7,393.4L324.7,405.7L325.3,405.7L325.3,405.6L326.5,405.6L326.5,386.9L327,386.9L327,386.9L328.5,386.9L328.5,405.9L328.7,405.9L328.7,407.4L330.4,407.4L330.4,405.4L332.1,405.4L332.1,406.7L333.8,406.7L333.8,406.3L335.5,406.3L335.5,404.2L337.2,404.2L337.2,404.4L338.9,404.4L338.9,402.5L339.7,402.5L339.7,393.3L340.6,393.3L340.6,393.3L341.7,393.3L341.7,404L342.3,404L342.3,402.6L344,402.6L344,404.6L345.7,404.6L345.7,402.9L347.4,402.9L347.4,401.6L349.1,401.6L349.1,403.5L350.8,403.5L350.8,404.2L351,404.2L351,392L352.5,392L352.5,392L353,392L353,399L354.2,399L354.2,401.3L355.9,401.3L355.9,398.7L357.6,398.7L357.6,393.6L358.5,393.6L358.5,373.8L359.3,373.8L359.3,373.8L360.5,373.8L360.5,395.4L361,395.4L361,389.5L362.7,389.5L362.7,388.9L364.4,388.9L364.4,386.4L366.1,386.4L366.1,385L367.8,385L367.8,385.8L369.5,385.8L369.5,380.5L370,380.5L370,365.8L371.2,365.8L371.2,365.8L372,365.8L372,382.1L372.9,382.1L372.9,384L374.6,384L374.6,381.1L376.3,381.1L376.3,381.4L378,381.4L378,378.7L378,378.7L378,366.2L379.7,366.2L379.7,366.2L380,366.2L380,383.1L381.4,383.1L381.4,380L383.1,380L383.1,383.9L384.8,383.9L384.8,378.2L386.5,378.2L386.5,376.8L387.5,376.8L387.5,331L388.2,331L388.2,331L389.5,331L389.5,374.4L389.9,374.4L389.9,373.8L391.6,373.8L391.6,374.4L393.3,374.4L393.3,372.8L395,372.8L395,378.4L395,378.4L395,354.1L396.7,354.1L396.7,354.1L397,354.1L397,368.9L398.4,368.9L398.4,367.1L400.1,367.1L400.1,367.6L401.8,367.6L401.8,369.3L403.5,369.3L403.5,368.3L404,368.3L404,340.3L405.2,340.3L405.2,340.3L406,340.3L406,367.1L406.9,367.1L406.9,355.9L408.6,355.9L408.6,364.1L410.3,364.1L410.3,357.6L412,357.6L412,357.2L412,357.2L412,334L413.7,334L413.7,334L414,334L414,354.7L415.4,354.7L415.4,354.2L417.1,354.2L417.1,357.5L418.8,357.5L418.8,352.9L420.5,352.9L420.5,353.4L420.9,353.4L420.9,303.3L421.3,303.3L421.3,303.3L422.2,303.3L422.2,303.3L422.9,303.3L422.9,351.5L423.1,351.5L423.1,351.5L423.9,351.5L423.9,349.6L425.6,349.6L425.6,340.6L427.3,340.6L427.3,344.1L428.8,344.1L428.8,344.1L429,344.1L429,342L429,342L429,317.4L430.7,317.4L430.7,317.4L430.7,317.4L430.7,317.4L431,317.4L431,343.3L432.4,343.3L432.4,333.5L432.5,333.5L432.5,333.5L434.1,333.5L434.1,336.7L435.8,336.7L435.8,334L436.3,334L436.3,334L437.5,334L437.5,329.8L437.6,329.8L437.6,292.5L438.2,292.5L438.2,292.5L439.2,292.5L439.2,292.5L439.6,292.5L439.6,332.3L440,332.3L440,332.3L440.9,332.3L440.9,326L442.6,326L442.6,322.8L443.2,322.8L443.2,322.8L444.3,322.8L444.3,318.7L445.6,318.7L445.6,282.6L445.7,282.6L445.7,282.6L446,282.6L446,282.6L447.6,282.6L447.6,310.2L447.7,310.2L447.7,313.1L447.8,313.1L447.8,313.1L449.4,313.1L449.4,315.1L449.4,315.1L449.4,315.1L451.1,315.1L451.1,324.9L451.3,324.9L451.3,324.9L452.8,324.9L452.8,304.6L453.8,304.6L453.8,304.6L454.5,304.6L454.5,311.4L454.5,311.4L454.5,311.4L456.2,311.4L456.2,300.5L456.5,300.5L456.5,300.5L457,300.5L457,300.5L457.9,300.5L457.9,296L459.6,296L459.6,288.7L461.3,288.7L461.3,286.8L461.5,286.8L461.5,286.8L462,286.8L462,286.8L463,286.8L463,271.6L464.7,271.6L464.7,275.2L464.7,275.2L464.7,275.2L466.4,275.2L466.4,279.6L466.4,279.6L466.4,279.6L468.1,279.6L468.1,257.6L469.8,257.6L469.8,259.5L471.1,259.5L471.1,259.5L471.5,259.5L471.5,262.1L473.2,262.1L473.2,264.9L473.3,264.9L473.3,264.9L473.6,264.9L473.6,264.9L474.5,264.9L474.5,264.9L474.9,264.9L474.9,240.5L475.4,240.5L475.4,240.5L476.4,240.5L476.4,240.5L476.6,240.5L476.6,257.1L478.1,257.1L478.1,257.1L478.3,257.1L478.3,260.7L478.8,260.7L478.8,260.7L479.3,260.7L479.3,140.8L479.9,140.8L479.9,140.8L480,140.8L480,140.8L481.7,140.8L481.7,140.8L482,140.8L482,256.7L482.6,256.7L482.6,256.7L483.3,256.7L483.3,256.7L483.4,256.7L483.4,250.9L484.4,250.9L484.4,250.9L485.1,250.9L485.1,269.4L486.8,269.4L486.8,284.5L487,284.5L487,284.5L487.4,284.5L487.4,278.8L488.3,278.8L488.3,278.8L488.5,278.8L488.5,278.8L489.2,278.8L489.2,284.4L490.2,284.4L490.2,268.6L490.9,268.6L490.9,268.6L491.2,268.6L491.2,268.6L491.9,268.6L491.9,259.6L492.6,259.6L492.6,259.6L493.6,259.6L493.6,271.3L493.9,271.3L493.9,271.3L494.4,271.3L494.4,271.3L495.3,271.3L495.3,260.6L495.9,260.6L495.9,260.6L496.5,260.6L496.5,149.6L496.6,149.6L496.6,149.6L497,149.6L497,149.6L498.4,149.6L498.4,149.6L498.7,149.6L498.7,149.6L499,149.6L499,264.8L500.4,264.8L500.4,393.3L500.6,393.3L500.6,393.3L502,393.3L502,345.4L502.1,345.4L502.1,345.4L503.8,345.4L503.8,345.4L504,345.4L504,393.6L505.5,393.6L505.5,393.8L507.2,393.8L507.2,392.8L508.9,392.8L508.9,396.8L510,396.8L510,364.3L510.6,364.3L510.6,364.3L512,364.3L512,392.7L512.3,392.7L512.3,395L513.7,395L513.7,381.1L514,381.1L514,381.1L515.7,381.1L515.7,381.1L515.7,381.1L515.7,397.7L517.4,397.7L517.4,393.9L519.1,393.9L519.1,397.7L520.8,397.7L520.8,394L521,394L521,387.2L522.5,387.2L522.5,387.2L523,387.2L523,397L524.2,397L524.2,398.1L525.9,398.1L525.9,396.5L527.6,396.5L527.6,395.6L529.3,395.6L529.3,399.8L530,399.8L530,387.2L531,387.2L531,387.2L532,387.2L532,396.5L532.7,396.5L532.7,418.7L534.4,418.7L534.4,418L536.1,418L536.1,419.4L537.8,419.4L537.8,420.7L539.5,420.7L539.5,420.4L541.2,420.4L541.2,419.4L542.9,419.4L542.9,419L544.6,419L544.6,420.2L546.3,420.2L546.3,420L548,420L548,420.3L549.7,420.3L549.7,421.7L551.4,421.7L551.4,421.2L553.1,421.2L553.1,422.1L554.8,422.1L554.8,421.7L556.5,421.7L556.5,421.4L558.2,421.4L558.2,421.9L559.9,421.9L559.9,419.6L561.6,419.6L561.6,420.2L563.3,420.2L563.3,419.5L565,419.5L565,419.6L566.7,419.6L566.7,416.8L568.4,416.8L568.4,418.7L570.1,418.7L570.1,417.2L571.8,417.2L571.8,416.6L573.5,416.6L573.5,417.7L575.2,417.7L575.2,417.8L576.9,417.8L576.9,419L578.6,419L578.6,417.8L580.3,417.8L580.3,419.7L582,419.7L582,419.4L583.7,419.4L583.7,420.9L585.4,420.9L585.4,421.5L587.1,421.5L587.1,421L588.8,421L588.8,422.9L590.5,422.9L590.5,423.2L592.2,423.2L592.2,423.2L593.9,423.2L593.9,423.2L595.6,423.2L595.6,428.9L597.3,428.9L597.3,431.8L599,431.8L599,432.8L600.7,432.8L600.7,432.8L602.4,432.8L602.4,432.8L604.1,432.8L604.1,432.8L605.8,432.8L605.8,432.8L607.5,432.8L607.5,432.8L609.2,432.8L609.2,432.8L610.9,432.8L610.9,432.8L612.6,432.8L612.6,432.8L614.3,432.8L614.3,432.8L616,432.8L616,432.8L617.7,432.8L617.7,432.8L619.4,432.8L619.4,432.8L621.1,432.8L621.1,432.8L622.8,432.8L622.8,432.8L624.5,432.8L624.5,432.8L626.2,432.8L626.2,432.8L627.9,432.8L627.9,432.8L629.6,432.8L629.6,432.8L631.3,432.8L631.3,432.8L633,432.8L633,432.8L634.7,432.8L634.7,432.8L636.4,432.8L636.4,432.8L638.1,432.8L638.1,432.8L639.8,432.8L639.8,432.8L641.5,432.8L641.5,432.8L643.2,432.8L643.2,432.8L644.9,432.8L644.9,432.8L646.6,432.8L646.6,432.8L648.3,432.8L648.3,432.8L650,432.8L650,432.8L651.7,432.8L651.7,432.8L653.4,432.8L653.4,432.8L655.1,432.8L655.1,432.8L656.8,432.8L656.8,432.8L658.5,432.8L658.5,432.8L660.2,432.8L660.2,432.8L661.9,432.8L661.9,432.8L663.6,432.8L663.6,432.7L665.3,432.7L665.3,432.5L667,432.5L667,432.3L668.7,432.3L668.7,432.1L670.4,432.1L670.4,431.8L672.1,431.8L672.1,431.6L673.8,431.6L673.8,431.4L675.5,431.4L675.5,431.2L677.2,431.2L677.2,431L678.9,431L678.9,430.7L680.6,430.7L680.6,430.4L682.3,430.4L682.3,429.9L684,429.9L684,423.2L684,423.2L684,423.2L685.7,423.2L685.7,423.2L686,423.2L686,429.3L687.4,429.3L687.4,428.6L689.1,428.6L689.1,428.2L690.8,428.2L690.8,389L691.6,389L691.6,331L692.5,331L692.5,331L693.6,331L693.6,387L694.2,387L694.2,390.4L695.9,390.4L695.9,384.6L697.6,384.6L697.6,384.8L699.3,384.8L699.3,384.9L701,384.9L701,390L702.7,390L702.7,386.2L704.4,386.2L704.4,385.1L705.4,385.1L705.4,304L706.1,304L706.1,304L707.4,304L707.4,386.3L707.8,386.3L707.8,381.6L708.7,381.6L708.7,312.7L709.5,312.7L709.5,312.7L710.7,312.7L710.7,384.4L711.2,384.4L711.2,378.9L712.9,378.9L712.9,381.4L714.6,381.4L714.6,375.9L716.3,375.9L716.3,378.1L718,378.1L718,375.1L719.7,375.1L719.7,377L721.4,377L721.4,382.4L722.5,382.4L722.5,279.7L723.1,279.7L723.1,279.7L724.5,279.7L724.5,383.5L724.8,383.5L724.8,381.1L726.5,381.1L726.5,375.3L726.7,375.3L726.7,375.3L728.2,375.3L728.2,373.4L728.7,373.4L728.7,373.4L729.9,373.4L729.9,374.3L731.6,374.3L731.6,375.2L733.3,375.2L733.3,380.3L734,380.3L734,380.3L735,380.3L735,373.8L736,373.8L736,373.8L736.7,373.8L736.7,376.1L738.4,376.1L738.4,373.3L739.2,373.3L739.2,297.1L740.1,297.1L740.1,297.1L741.2,297.1L741.2,372.1L741.8,372.1L741.8,367.8L743,367.8L743,367.8L743.5,367.8L743.5,375.3L745,375.3L745,375.3L745.2,375.3L745.2,379.5L746.9,379.5L746.9,370.7L748,370.7L748,370.7L748.6,370.7L748.6,367L750,367L750,367L750.3,367L750.3,367.8L752,367.8L752,373.1L753.7,373.1L753.7,376.5L755.4,376.5L755.4,371.9L756.8,371.9L756.8,371.9L757.1,371.9L757.1,375L758.8,375L758.8,375L758.8,375L758.8,370.1L760.5,370.1L760.5,373.2L761,373.2L761,373.2L762.2,373.2L762.2,366.9L763,366.9L763,366.9L763.9,366.9L763.9,371.8L765,371.8L765,371.8L765.6,371.8L765.6,370.8L767,370.8L767,370.8L767.3,370.8L767.3,366.5L769,366.5L769,368.4L770.3,368.4L770.3,368.4L770.7,368.4L770.7,266L772.4,266L772.4,280.3L772.5,280.3L772.5,280.3L773.2,280.3L773.2,280.3L774.1,280.3L774.1,259.6L775.7,259.6L775.7,259.6L775.8,259.6L775.8,267.9L777.5,267.9L777.5,262.1L778.2,262.1L778.2,262.1L779.2,262.1L779.2,250.3L780.9,250.3L780.9,250.3L780.9,250.3L780.9,230.3L781.9,230.3L781.9,230.3L782.6,230.3L782.6,232.9L783.8,232.9L783.8,232.9L784.3,232.9L784.3,247.2L786,247.2L786,256L786.9,256L786.9,256L787.7,256L787.7,265.3L789,265.3L789,265.3L789.4,265.3L789.4,264.2L790,264.2L790,169L791.1,169L791.1,169L792.8,169L792.8,281.5L792.8,281.5L792.8,281.6L794.5,281.6L794.5,271L795,271L795,271L796.2,271L796.2,225L797.6,225L797.6,225L797.9,225L797.9,262.2L799,262.2L799,262.2L799.6,262.2L799.6,261.2L800.7,261.2L800.7,261.2L801.3,261.2L801.3,272.7L802.6,272.7L802.6,272.7L803,272.7L803,266.5L804.7,266.5L804.7,289.1L806.4,289.1L806.4,275.3L806.5,275.3L806.5,275.3L807,275.3L807,226.4L808.1,226.4L808.1,226.4L809.8,226.4L809.8,226.4L809.9,226.4L809.9,284.3L811,284.3L811,284.3L811.5,284.3L811.5,286.7L813.2,286.7L813.2,290.7L813.4,290.7L813.4,290.7L814.9,290.7L814.9,296.6L815.1,296.6L815.1,296.6L815.8,296.6L815.8,296.6L816.6,296.6L816.6,282.7L817.6,282.7L817.6,282.7L818.3,282.7L818.3,296.5L820,296.5L820,304.8L820.5,304.8L820.5,304.8L821.4,304.8L821.4,304.8L821.7,304.8L821.7,303.4L822.8,303.4L822.8,303.4L823.4,303.4L823.4,292.2L824.2,292.2L824.2,292.2L825.1,292.2L825.1,288.5L826.8,288.5L826.8,287.6L827,287.6L827,287.6L828.5,287.6L828.5,293L829.8,293L829.8,293L830.2,293L830.2,287.7L831.9,287.7L831.9,309.9L832,309.9L832,309.9L833.6,309.9L833.6,328.5L834.5,328.5L834.5,328.5L835.3,328.5L835.3,327.8L837,327.8L837,332.3L838.7,332.3L838.7,334.5L839.7,334.5L839.7,334.5L840.4,334.5L840.4,343.6L842.1,343.6L842.1,346.1L842.5,346.1L842.5,346.1L843.8,346.1L843.8,347.7L844.8,347.7L844.8,347.7L845.5,347.7L845.5,341.4L847.2,341.4L847.2,346.3L847.7,346.3L847.7,346.3L848.9,346.3L848.9,347L850.5,347L850.5,347L850.6,347L850.6,349.6L852.3,349.6L852.3,358.4L852.4,358.4L852.4,358.4L854,358.4L854,353.2L855.7,353.2L855.7,357L857,357L857,338.2L857.4,338.2L857.4,338.2L859,338.2L859,360.8L859.1,360.8L859.1,356.8L860.8,356.8L860.8,362.3L862.5,362.3L862.5,364.2L864.2,364.2L864.2,364.2L865.5,364.2L865.5,343.3L865.9,343.3L865.9,343.3L867.5,343.3L867.5,365.5L867.6,365.5L867.6,369.7L869.3,369.7L869.3,368.4L871,368.4L871,371.1L872.7,371.1L872.7,376.6L874.4,376.6L874.4,374.1L874.6,374.1L874.6,345.4L876.1,345.4L876.1,345.4L876.6,345.4L876.6,375.6L877.8,375.6L877.8,380.4L879.5,380.4L879.5,377.2L881.2,377.2L881.2,376.9L882,376.9L882,352.8L882.9,352.8L882.9,352.8L884,352.8L884,380.2L884.6,380.2L884.6,379.8L886.3,379.8L886.3,379.1L888,379.1L888,381.6L889.7,381.6L889.7,377.9L891.4,377.9L891.4,389L891.6,389L891.6,352.1L893.1,352.1L893.1,352.1L893.6,352.1L893.6,384.2L894.8,384.2L894.8,384.7L896.5,384.7L896.5,383.6L898.2,383.6L898.2,390.4L899.6,390.4L899.6,369.7L899.9,369.7L899.9,369.7L901.6,369.7L901.6,384.6L901.6,384.6L901.6,387.4L903.3,387.4L903.3,390.4L905,390.4L905,390.7L906.7,390.7L906.7,390.4L908.4,390.4L908.4,387.7L909.7,387.7L909.7,373.5L910.1,373.5L910.1,373.5L911.7,373.5L911.7,387.7L911.8,387.7L911.8,390.2L913.5,390.2L913.5,391.8L915.2,391.8L915.2,393.6L916.9,393.6L916.9,391.8L917,391.8L917,375.6L918.6,375.6L918.6,375.6L919,375.6L919,391.1L920.3,391.1L920.3,394.7L922,394.7L922,394.1L923.7,394.1L923.7,394.7L924,394.7L924,376L925.4,376L925.4,376L926,376L926,396.8L927.1,396.8L927.1,395.1L928.8,395.1L928.8,397.9L930.5,397.9L930.5,397.5L932.2,397.5L932.2,395.7L933.9,395.7L933.9,400.9L935.6,400.9L935.6,398.2L936,398.2L936,386.9L937.3,386.9L937.3,386.9L938,386.9L938,400.3L939,400.3L939,398.9L940.7,398.9L940.7,402.2L941,402.2L941,389.3L942.4,389.3L942.4,389.3L943,389.3L943,402.2L944,402.2L944,392.5L944.1,392.5L944.1,392.5L945.8,392.5L945.8,392.5L946,392.5L946,404.6L947.5,404.6L947.5,407.1L949.2,407.1L949.2,409L950.9,409L950.9,407.8L952.6,407.8L952.6,407.3L954.3,407.3L954.3,407.8L956,407.8L956,407.5L957.7,407.5L957.7,409.5L959,409.5L959,399.6L959.4,399.6L959.4,399.6L961,399.6L961,412.1L961.1,412.1L961.1,409.7L962.8,409.7L962.8,409.7L964.5,409.7L964.5,409L966.2,409L966.2,410.6L967.9,410.6L967.9,409.6L969,409.6L969,400.7L969.6,400.7L969.6,400.7L971,400.7L971,409.6L971.3,409.6L971.3,410.8L973,410.8L973,410.1L974.7,410.1L974.7,410L975.8,410L975.8,384.9L976.4,384.9L976.4,384.9L977.8,384.9L977.8,411.5L978.1,411.5L978.1,410L979.8,410L979.8,404.9L981.5,404.9L981.5,405.4L983.2,405.4L983.2,405.8L984.9,405.8L984.9,406.6L986.6,406.6L986.6,396.7L986.6,396.7L986.6,396.7L988.3,396.7L988.3,396.7L988.6,396.7L988.6,404.3L990,404.3L990,405.8L991.7,405.8L991.7,403.5L993.4,403.5L993.4,405.6L993.6,405.6L993.6,386.3L995.1,386.3L995.1,386.3L995.6,386.3L995.6,405.2L996.8,405.2L996.8,405.2L998.5,405.2L998.5,403.7L1000.2,403.7L1000.2,405.3L1001.9,405.3L1001.9,401L1003.6,401L1003.6,404.8L1004.7,404.8L1004.7,394.1L1005.3,394.1L1005.3,394.1L1006.7,394.1L1006.7,404.3L1007,404.3L1007,403.8L1008.7,403.8L1008.7,406.8L1010.4,406.8L1010.4,406.4L1011,406.4L1011,395.4L1012.1,395.4L1012.1,395.4L1013,395.4L1013,407.2L1013.8,407.2L1013.8,404.8L1015.5,404.8L1015.5,407.4L1017.2,407.4L1017.2,406L1018.4,406L1018.4,394L1018.9,394L1018.9,394L1020.4,394L1020.4,407L1020.6,407L1020.6,407.2L1022.3,407.2L1022.3,407.9L1024,407.9L1024,407.6L1025.7,407.6L1025.7,409.2L1027.4,409.2L1027.4,410.1L1028.5,410.1L1028.5,395.6L1029.1,395.6L1029.1,395.6L1030.5,395.6L1030.5,409.3L1030.8,409.3L1030.8,408.8L1032.5,408.8L1032.5,410L1034.2,410L1034.2,408.2L1035.9,408.2L1035.9,408.7L1037.6,408.7L1037.6,408.7L1039,408.7L1039,402.5L1039.3,402.5L1039.3,402.5L1041,402.5L1041,409.9L1041,409.9L1041,408.8L1042.7,408.8L1042.7,408.5L1044.4,408.5L1044.4,410L1046,410L1046,401L1046.1,401L1046.1,401L1047.8,401L1047.8,401L1048,401L1048,408.9L1049.5,408.9L1049.5,411.1L1051.2,411.1L1051.2,411.4L1052.9,411.4L1052.9,411.3L1054.6,411.3L1054.6,410.7L1056.3,410.7L1056.3,411L1057.3,411L1057.3,383L1058,383L1058,383L1059.3,383L1059.3,410.5L1059.7,410.5L1059.7,410.9L1061.4,410.9L1061.4,410.7L1063.1,410.7L1063.1,409.5L1064.8,409.5L1064.8,411.3L1066,411.3L1066,400.4L1066.5,400.4L1066.5,400.4L1068,400.4L1068,409L1068.2,409L1068.2,409.5L1069.9,409.5L1069.9,409.6L1071.6,409.6L1071.6,409.3L1073.3,409.3L1073.3,409.4L1075,409.4L1075,409.5L1075.3,409.5L1075.3,388.3L1076.7,388.3L1076.7,388.3L1077.3,388.3L1077.3,415.5L1078.4,415.5L1078.4,416.2L1080.1,416.2L1080.1,416L1081.8,416L1081.8,416.5L1083.5,416.5L1083.5,413.5L1084,413.5L1084,404.2L1085.2,404.2L1085.2,404.2L1086,404.2L1086,414.5L1086.9,414.5L1086.9,415.9L1088.6,415.9L1088.6,413.5L1090.3,413.5L1090.3,413.8L1092,413.8L1092,416.3L1092.4,416.3L1092.4,400.2L1093.7,400.2L1093.7,400.2L1094.4,400.2L1094.4,416.6L1095.4,416.6L1095.4,417.1L1097.1,417.1L1097.1,415L1098.8,415L1098.8,416.8L1100.5,416.8L1100.5,416.8L1101,416.8L1101,409.1L1102.2,409.1L1102.2,409.1L1103,409.1L1103,415.4L1103.9,415.4L1103.9,416.1L1105.6,416.1L1105.6,415L1107.3,415L1107.3,417.1L1109,417.1L1109,418L1110,418L1110,405.8L1110.7,405.8L1110.7,405.8L1112,405.8L1112,416.5L1112.4,416.5L1112.4,418.4L1114.1,418.4L1114.1,418.2L1115.8,418.2L1115.8,418.6L1117.5,418.6L1117.5,417.9L1119,417.9L1119,414.6L1119.2,414.6L1119.2,414.6L1120.9,414.6L1120.9,414.6L1121,414.6L1121,420.9L1122.6,420.9L1122.6,420.1L1124.3,420.1L1124.3,420.1L1126,420.1L1126,421.5L1127.7,421.5L1127.7,422.1L1128,422.1L1128,410L1129.4,410L1129.4,410L1130,410L1130,421L1131.1,421L1131.1,420.6L1132.8,420.6L1132.8,422.6L1134.5,422.6L1134.5,422L1136.2,422L1136.2,422.2L1136.5,422.2L1136.5,416.9L1137.9,416.9L1137.9,416.9L1138.5,416.9L1138.5,422.9L1139.6,422.9L1139.6,423.2L1141.3,423.2L1141.3,423.4L1143,423.4L1143,423.2L1144.7,423.2L1144.7,423.8L1145.8,423.8L1145.8,419.8L1146.4,419.8L1146.4,419.8L1147.8,419.8L1147.8,424.4L1148.1,424.4L1148.1,424.4L1149.8,424.4L1149.8,425.1L1151.5,425.1L1151.5,424.7L1153.2,424.7L1153.2,425.3L1154.9,425.3L1154.9,425.7L1156.6,425.7L1156.6,425.8L1158.3,425.8L1158.3,425.9L1160,425.9L1160,425.5L1161.7,425.5L1161.7,426.4L1163.4,426.4L1163.4,426.7L1164,426.7L1164,424.8L1165.1,424.8L1165.1,424.8L1166,424.8L1166,427.3L1166.8,427.3L1166.8,427.6L1168.5,427.6L1168.5,426.9L1170.2,426.9L1170.2,427.7L1171.9,427.7L1171.9,427.9L1173.6,427.9L1173.6,428.5L1175.3,428.5L1175.3,428.4L1177,428.4L1177,428.6L1178.7,428.6L1178.7,429L1180.4,429L1180.4,429L1180.9,429L1180.9,424.3L1182.1,424.3L1182.1,424.3L1182.9,424.3L1182.9,429.2L1183.8,429.2L1183.8,429.5L1185.5,429.5L1185.5,429.8L1187.2,429.8L1187.2,429.9L1188.9,429.9L1188.9,430L1190.6,430L1190.6,430.4L1192.3,430.4L1192.3,430.5L1194,430.5L1194,430.6L1195.7,430.6L1195.7,430.7L1197.4,430.7L1197.4,431.1L1199.1,431.1L1199.1,431.2L1200.8,431.2L1200.8,431.4L1202.5,431.4L1202.5,431.4L1204.2,431.4L1204.2,431.7L1205.9,431.7L1205.9,431.9L1207.6,431.9L1207.6,432.1L1209.3,432.1L1209.3,432.3L1211,432.3L1211,432.5L1212.7,432.5L1212.7,432.6L1214.4,432.6L1214.4,432.8L1215,432.8L1215,432.8Z" fill="#bde873"/>
<path d="M55,432.8L55,432.8L56.7,432.8L56.7,432.8L58.4,432.8L58.4,432.8L60.1,432.8L60.1,432.8L61.8,432.8L61.8,432.8L63.5,432.8L63.5,432.8L65.2,432.8L65.2,432.8L66.9,432.8L66.9,432.6L68.6,432.6L68.6,432.4L70.3,432.4L70.3,432.2L72,432.2L72,432L73.7,432L73.7,431.8L75.4,431.8L75.4,431.7L77.1,431.7L77.1,431.5L78.8,431.5L78.8,431.4L80.5,431.4L80.5,431.2L82.2,431.2L82.2,431L83.9,431L83.9,430.8L85.6,430.8L85.6,430.8L87.3,430.8L87.3,430.5L89,430.5L89,430.2L90.7,430.2L90.7,430L92.4,430L92.4,429.9L94.1,429.9L94.1,429.8L95.8,429.8L95.8,429.5L97.5,429.5L97.5,429.3L99.2,429.3L99.2,429.2L100.9,429.2L100.9,428.8L102.6,428.8L102.6,428.5L104.3,428.5L104.3,428.3L106,428.3L106,428L107.7,428L107.7,427.9L109.4,427.9L109.4,427.8L111.1,427.8L111.1,427.6L112.8,427.6L112.8,426.9L114.5,426.9L114.5,427L116.2,427L116.2,427L117.9,427L117.9,426.3L119.6,426.3L119.6,426L121.3,426L121.3,425.8L123,425.8L123,425.4L124.7,425.4L124.7,425.7L125.5,425.7L125.5,420.1L126.4,420.1L126.4,420.1L127.5,420.1L127.5,425L128.1,425L128.1,424.9L129.8,424.9L129.8,425L131.5,425L131.5,424.8L133.2,424.8L133.2,424.1L134,424.1L134,421.4L134.9,421.4L134.9,421.4L136,421.4L136,424.3L136.6,424.3L136.6,424.9L138.3,424.9L138.3,423.7L140,423.7L140,424.2L141.7,424.2L141.7,423.6L142,423.6L142,410.9L143.4,410.9L143.4,410.9L144,410.9L144,423.5L145.1,423.5L145.1,423.9L146.8,423.9L146.8,423.6L148.5,423.6L148.5,423.3L150.2,423.3L150.2,423L151.9,423L151.9,423.1L153.6,423.1L153.6,422.4L155.3,422.4L155.3,422.8L157,422.8L157,422.9L158.7,422.9L158.7,422.8L159,422.8L159,417.9L160.4,417.9L160.4,417.9L161,417.9L161,422.9L162.1,422.9L162.1,422.7L163.8,422.7L163.8,422.4L165.5,422.4L165.5,422.3L166,422.3L166,419.9L167.2,419.9L167.2,419.9L168,419.9L168,422.1L168.9,422.1L168.9,421.9L170.6,421.9L170.6,422.5L172.3,422.5L172.3,421.7L174,421.7L174,421.2L175,421.2L175,406.5L175.7,406.5L175.7,406.5L177,406.5L177,420.6L177.4,420.6L177.4,420.8L179.1,420.8L179.1,421.5L180.8,421.5L180.8,420.4L182.5,420.4L182.5,419.5L184.2,419.5L184.2,418.5L185.9,418.5L185.9,416.6L187.6,416.6L187.6,415.5L189.3,415.5L189.3,414L191,414L191,414.2L191,414.2L191,401.6L192.7,401.6L192.7,401.6L193,401.6L193,413.8L194.4,413.8L194.4,414L196.1,414L196.1,414L197.8,414L197.8,414.3L199.4,414.3L199.4,408.5L199.5,408.5L199.5,408.5L201.2,408.5L201.2,408.5L201.4,408.5L201.4,414.8L202.9,414.8L202.9,415.1L204.6,415.1L204.6,415.2L206.3,415.2L206.3,414.7L207.4,414.7L207.4,406.8L208,406.8L208,406.8L209.4,406.8L209.4,414.6L209.7,414.6L209.7,414.5L211.4,414.5L211.4,414.1L213.1,414.1L213.1,414L214.8,414L214.8,414.4L216,414.4L216,408.7L216.5,408.7L216.5,408.7L218,408.7L218,412.9L218.2,412.9L218.2,412.5L219.9,412.5L219.9,412.8L221.6,412.8L221.6,411.8L223.3,411.8L223.3,411.3L224.5,411.3L224.5,386.6L225,386.6L225,386.6L226.5,386.6L226.5,411.2L226.7,411.2L226.7,411.6L228.4,411.6L228.4,408.9L230.1,408.9L230.1,411L231.8,411L231.8,409.6L232,409.6L232,407.8L233.5,407.8L233.5,407.8L234,407.8L234,412.8L235.2,412.8L235.2,412L236.9,412L236.9,413.7L238.6,413.7L238.6,414.6L240,414.6L240,403.8L240.3,403.8L240.3,403.8L242,403.8L242,403.8L242,403.8L242,417.2L243.7,417.2L243.7,416.3L245.4,416.3L245.4,417L247.1,417L247.1,417L248.8,417L248.8,417L249,417L249,412.6L250.5,412.6L250.5,412.6L251,412.6L251,417.6L252.2,417.6L252.2,416.8L253.9,416.8L253.9,416.5L255.6,416.5L255.6,417.3L257.3,417.3L257.3,416.4L257.5,416.4L257.5,394.7L259,394.7L259,394.7L259.5,394.7L259.5,416.7L260.7,416.7L260.7,416.5L262.4,416.5L262.4,416.6L264.1,416.6L264.1,416.2L265,416.2L265,410.3L265.8,410.3L265.8,410.3L267,410.3L267,414.5L267.5,414.5L267.5,415.2L269.2,415.2L269.2,415.3L270.9,415.3L270.9,413.9L272.6,413.9L272.6,414.6L273.6,414.6L273.6,398.1L274.3,398.1L274.3,398.1L275.6,398.1L275.6,413.3L276,413.3L276,412.5L277.7,412.5L277.7,413.8L279.4,413.8L279.4,414L281.1,414L281.1,413.9L282,413.9L282,410.4L282.8,410.4L282.8,410.4L284,410.4L284,413.9L284.5,413.9L284.5,414.1L286.2,414.1L286.2,413.8L287.9,413.8L287.9,414.4L289.6,414.4L289.6,414.3L290,414.3L290,400.2L291.3,400.2L291.3,400.2L292,400.2L292,413.5L293,413.5L293,413.4L294.7,413.4L294.7,413.8L296.4,413.8L296.4,413.6L298.1,413.6L298.1,412.9L298.5,412.9L298.5,409.3L299.8,409.3L299.8,409.3L300.5,409.3L300.5,412.4L301.5,412.4L301.5,412.4L303.2,412.4L303.2,411.5L304.9,411.5L304.9,412.7L306.6,412.7L306.6,411.8L306.7,411.8L306.7,402.1L308.3,402.1L308.3,402.1L308.7,402.1L308.7,410.3L310,410.3L310,410.9L311.7,410.9L311.7,411.8L313.4,411.8L313.4,411.6L315.1,411.6L315.1,410.7L316.8,410.7L316.8,412.3L317,412.3L317,406.4L318.5,406.4L318.5,406.4L319,406.4L319,412.6L320.2,412.6L320.2,410.5L321.9,410.5L321.9,412.2L322.7,412.2L322.7,403.7L323.6,403.7L323.6,403.7L324.7,403.7L324.7,411.6L325.3,411.6L325.3,411.1L326.5,411.1L326.5,399.2L327,399.2L327,399.2L328.5,399.2L328.5,410.7L328.7,410.7L328.7,411.7L330.4,411.7L330.4,410.7L332.1,410.7L332.1,412.4L333.8,412.4L333.8,411.9L335.5,411.9L335.5,410.4L337.2,410.4L337.2,410.7L338.9,410.7L338.9,409.6L339.7,409.6L339.7,405.2L340.6,405.2L340.6,405.2L341.7,405.2L341.7,410.3L342.3,410.3L342.3,410.2L344,410.2L344,411.5L345.7,411.5L345.7,409.9L347.4,409.9L347.4,409.4L349.1,409.4L349.1,409L350.8,409L350.8,409L351,409L351,404.8L352.5,404.8L352.5,404.8L353,404.8L353,408L354.2,408L354.2,407.8L355.9,407.8L355.9,405.9L357.6,405.9L357.6,404.6L358.5,404.6L358.5,393.1L359.3,393.1L359.3,393.1L360.5,393.1L360.5,404.7L361,404.7L361,403L362.7,403L362.7,401.3L364.4,401.3L364.4,398.9L366.1,398.9L366.1,398.6L367.8,398.6L367.8,399.2L369.5,399.2L369.5,395.7L370,395.7L370,388L371.2,388L371.2,388L372,388L372,397.6L372.9,397.6L372.9,397.1L374.6,397.1L374.6,393.8L376.3,393.8L376.3,392.4L378,392.4L378,393.9L378,393.9L378,387.7L379.7,387.7L379.7,387.7L380,387.7L380,393.6L381.4,393.6L381.4,391.7L383.1,391.7L383.1,394.7L384.8,394.7L384.8,392L386.5,392L386.5,391.4L387.5,391.4L387.5,364.5L388.2,364.5L388.2,364.5L389.5,364.5L389.5,389.1L389.9,389.1L389.9,387.6L391.6,387.6L391.6,390.5L393.3,390.5L393.3,386.3L395,386.3L395,388.4L395,388.4L395,380.1L396.7,380.1L396.7,380.1L397,380.1L397,388L398.4,388L398.4,386.7L400.1,386.7L400.1,385.1L401.8,385.1L401.8,386L403.5,386L403.5,382.2L404,382.2L404,369.4L405.2,369.4L405.2,369.4L406,369.4L406,381.4L406.9,381.4L406.9,377.9L408.6,377.9L408.6,377L410.3,377L410.3,373.7L412,373.7L412,373L412,373L412,363.1L413.7,363.1L413.7,363.1L414,363.1L414,370.8L415.4,370.8L415.4,371.8L417.1,371.8L417.1,373.6L418.8,373.6L418.8,367.6L420.5,367.6L420.5,370.4L420.9,370.4L420.9,339.9L421.3,339.9L421.3,339.9L422.2,339.9L422.2,339.9L422.9,339.9L422.9,366.2L423.1,366.2L423.1,366.2L423.9,366.2L423.9,362L425.6,362L425.6,360.9L427.3,360.9L427.3,363L428.8,363L428.8,363L429,363L429,362.9L429,362.9L429,348.7L430.7,348.7L430.7,348.7L430.7,348.7L430.7,348.7L431,348.7L431,357.4L432.4,357.4L432.4,352.2L432.5,352.2L432.5,352.2L434.1,352.2L434.1,352.5L435.8,352.5L435.8,351L436.3,351L436.3,351L437.5,351L437.5,349.5L437.6,349.5L437.6,330.4L438.2,330.4L438.2,330.4L439.2,330.4L439.2,330.4L439.6,330.4L439.6,349.2L440,349.2L440,349.2L440.9,349.2L440.9,345.2L442.6,345.2L442.6,341.2L443.2,341.2L443.2,341.2L444.3,341.2L444.3,336.6L445.6,336.6L445.6,321.8L445.7,321.8L445.7,321.8L446,321.8L446,321.8L447.6,321.8L447.6,335.5L447.7,335.5L447.7,333.7L447.8,333.7L447.8,333.7L449.4,333.7L449.4,332.4L449.4,332.4L449.4,332.4L451.1,332.4L451.1,338.3L451.3,338.3L451.3,338.3L452.8,338.3L452.8,327.7L453.8,327.7L453.8,327.7L454.5,327.7L454.5,327.7L454.5,327.7L454.5,327.7L456.2,327.7L456.2,323.7L456.5,323.7L456.5,323.7L457,323.7L457,323.7L457.9,323.7L457.9,320.3L459.6,320.3L459.6,320.9L461.3,320.9L461.3,324.1L461.5,324.1L461.5,324.1L462,324.1L462,324.1L463,324.1L463,312.3L464.7,312.3L464.7,317.4L464.7,317.4L464.7,317.4L466.4,317.4L466.4,315L466.4,315L466.4,315L468.1,315L468.1,304.9L469.8,304.9L469.8,309.4L471.1,309.4L471.1,309.4L471.5,309.4L471.5,309.8L473.2,309.8L473.2,311.3L473.3,311.3L473.3,311.3L473.6,311.3L473.6,298.8L474.5,298.8L474.5,298.8L474.9,298.8L474.9,298.8L475.4,298.8L475.4,302.7L476.4,302.7L476.4,302.7L476.6,302.7L476.6,300.5L478.1,300.5L478.1,281.8L478.3,281.8L478.3,281.8L478.8,281.8L478.8,281.8L479.3,281.8L479.3,281.8L479.9,281.8L479.9,301.4L480,301.4L480,308.7L481.7,308.7L481.7,304.1L482,304.1L482,304.1L482.6,304.1L482.6,295.8L483.3,295.8L483.3,295.8L483.4,295.8L483.4,295.8L484.4,295.8L484.4,301.3L485.1,301.3L485.1,306.7L486.8,306.7L486.8,311.9L487,311.9L487,311.9L487.4,311.9L487.4,286.8L488.3,286.8L488.3,286.8L488.5,286.8L488.5,286.8L489.2,286.8L489.2,310.7L490.2,310.7L490.2,305.9L490.9,305.9L490.9,305.9L491.2,305.9L491.2,305.9L491.9,305.9L491.9,309.9L492.6,309.9L492.6,294.8L493.6,294.8L493.6,294.8L493.9,294.8L493.9,294.8L494.4,294.8L494.4,306.8L495.3,306.8L495.3,299.3L495.9,299.3L495.9,299.3L496.5,299.3L496.5,299.3L496.6,299.3L496.6,296.8L497,296.8L497,296.8L498.4,296.8L498.4,303.4L498.7,303.4L498.7,304.2L499,304.2L499,304.2L500.4,304.2L500.4,407.9L500.6,407.9L500.6,407.9L502,407.9L502,382.7L502.1,382.7L502.1,382.7L503.8,382.7L503.8,382.7L504,382.7L504,409L505.5,409L505.5,406.8L507.2,406.8L507.2,409.7L508.9,409.7L508.9,408.4L510,408.4L510,394L510.6,394L510.6,394L512,394L512,408.2L512.3,408.2L512.3,408.5L513.7,408.5L513.7,403.3L514,403.3L514,403.3L515.7,403.3L515.7,403.3L515.7,403.3L515.7,410.2L517.4,410.2L517.4,408.2L519.1,408.2L519.1,409.4L520.8,409.4L520.8,409.9L521,409.9L521,406.4L522.5,406.4L522.5,406.4L523,406.4L523,410.1L524.2,410.1L524.2,409.6L525.9,409.6L525.9,410.3L527.6,410.3L527.6,410.5L529.3,410.5L529.3,411.9L530,411.9L530,406.6L531,406.6L531,406.6L532,406.6L532,411.3L532.7,411.3L532.7,423.2L534.4,423.2L534.4,422.9L536.1,422.9L536.1,423.3L537.8,423.3L537.8,424.2L539.5,424.2L539.5,423.5L541.2,423.5L541.2,424.1L542.9,424.1L542.9,423.6L544.6,423.6L544.6,424L546.3,424L546.3,424L548,424L548,423.8L549.7,423.8L549.7,424.1L551.4,424.1L551.4,424.4L553.1,424.4L553.1,425L554.8,425L554.8,424.8L556.5,424.8L556.5,424.5L558.2,424.5L558.2,424.6L559.9,424.6L559.9,424.6L561.6,424.6L561.6,423.9L563.3,423.9L563.3,423.6L565,423.6L565,423.1L566.7,423.1L566.7,422.1L568.4,422.1L568.4,421.8L570.1,421.8L570.1,421.5L571.8,421.5L571.8,420.9L573.5,420.9L573.5,421L575.2,421L575.2,421.2L576.9,421.2L576.9,421.7L578.6,421.7L578.6,421.5L580.3,421.5L580.3,422.3L582,422.3L582,423.3L583.7,423.3L583.7,423.3L585.4,423.3L585.4,424.5L587.1,424.5L587.1,425.1L588.8,425.1L588.8,425.9L590.5,425.9L590.5,426.6L592.2,426.6L592.2,427.5L593.9,427.5L593.9,428.5L595.6,428.5L595.6,431L597.3,431L597.3,432.3L599,432.3L599,432.8L600.7,432.8L600.7,432.8L602.4,432.8L602.4,432.8L604.1,432.8L604.1,432.8L605.8,432.8L605.8,432.8L607.5,432.8L607.5,432.8L609.2,432.8L609.2,432.8L610.9,432.8L610.9,432.8L612.6,432.8L612.6,432.8L614.3,432.8L614.3,432.8L616,432.8L616,432.8L617.7,432.8L617.7,432.8L619.4,432.8L619.4,432.8L621.1,432.8L621.1,432.8L622.8,432.8L622.8,432.8L624.5,432.8L624.5,432.8L626.2,432.8L626.2,432.8L627.9,432.8L627.9,432.8L629.6,432.8L629.6,432.8L631.3,432.8L631.3,432.8L633,432.8L633,432.8L634.7,432.8L634.7,432.8L636.4,432.8L636.4,432.8L638.1,432.8L638.1,432.8L639.8,432.8L639.8,432.8L641.5,432.8L641.5,432.8L643.2,432.8L643.2,432.8L644.9,432.8L644.9,432.8L646.6,432.8L646.6,432.8L648.3,432.8L648.3,432.8L650,432.8L650,432.8L651.7,432.8L651.7,432.8L653.4,432.8L653.4,432.8L655.1,432.8L655.1,432.8L656.8,432.8L656.8,432.8L658.5,432.8L658.5,432.8L660.2,432.8L660.2,432.8L661.9,432.8L661.9,432.8L663.6,432.8L663.6,432.8L665.3,432.8L665.3,432.6L667,432.6L667,432.4L668.7,432.4L668.7,432.3L670.4,432.3L670.4,432.2L672.1,432.2L672.1,432L673.8,432L673.8,431.8L675.5,431.8L675.5,431.7L677.2,431.7L677.2,431.6L678.9,431.6L678.9,431.4L680.6,431.4L680.6,431.3L682.3,431.3L682.3,430.8L684,430.8L684,428.8L684,428.8L684,428.8L685.7,428.8L685.7,428.8L686,428.8L686,430.8L687.4,430.8L687.4,430.8L689.1,430.8L689.1,430.7L690.8,430.7L690.8,398.5L691.6,398.5L691.6,343.9L692.5,343.9L692.5,343.9L693.6,343.9L693.6,398.2L694.2,398.2L694.2,399.2L695.9,399.2L695.9,398.1L697.6,398.1L697.6,397.5L699.3,397.5L699.3,398L701,398L701,398.5L702.7,398.5L702.7,398.5L704.4,398.5L704.4,397.1L705.4,397.1L705.4,320.3L706.1,320.3L706.1,320.3L707.4,320.3L707.4,396.4L707.8,396.4L707.8,393.6L708.7,393.6L708.7,327.9L709.5,327.9L709.5,327.9L710.7,327.9L710.7,396.7L711.2,396.7L711.2,395.8L712.9,395.8L712.9,397.1L714.6,397.1L714.6,392.4L716.3,392.4L716.3,394.3L718,394.3L718,393.9L719.7,393.9L719.7,393.2L721.4,393.2L721.4,394.2L722.5,394.2L722.5,299L723.1,299L723.1,299L724.5,299L724.5,393.2L724.8,393.2L724.8,394L726.5,394L726.5,393L726.7,393L726.7,393L728.2,393L728.2,390.5L728.7,390.5L728.7,390.5L729.9,390.5L729.9,391.2L731.6,391.2L731.6,391.3L733.3,391.3L733.3,391L734,391L734,391L735,391L735,388.4L736,388.4L736,388.4L736.7,388.4L736.7,390.7L738.4,390.7L738.4,390.5L739.2,390.5L739.2,314.2L740.1,314.2L740.1,314.2L741.2,314.2L741.2,389.7L741.8,389.7L741.8,387.9L743,387.9L743,387.9L743.5,387.9L743.5,388.6L745,388.6L745,388.6L745.2,388.6L745.2,388.8L746.9,388.8L746.9,386.8L748,386.8L748,386.8L748.6,386.8L748.6,383.8L750,383.8L750,383.8L750.3,383.8L750.3,386.1L752,386.1L752,386.1L753.7,386.1L753.7,388.1L755.4,388.1L755.4,383.1L756.8,383.1L756.8,383.1L757.1,383.1L757.1,386.5L758.8,386.5L758.8,386.5L758.8,386.5L758.8,383L760.5,383L760.5,384.6L761,384.6L761,384.6L762.2,384.6L762.2,381.2L763,381.2L763,381.2L763.9,381.2L763.9,383.9L765,383.9L765,383.9L765.6,383.9L765.6,383.4L767,383.4L767,383.4L767.3,383.4L767.3,381.7L769,381.7L769,384.3L770.3,384.3L770.3,384.3L770.7,384.3L770.7,280.2L772.4,280.2L772.4,295L772.5,295L772.5,295L773.2,295L773.2,295L774.1,295L774.1,282.6L775.7,282.6L775.7,282.6L775.8,282.6L775.8,282.7L777.5,282.7L777.5,287.7L778.2,287.7L778.2,287.7L779.2,287.7L779.2,294.2L780.9,294.2L780.9,294.2L780.9,294.2L780.9,285.2L781.9,285.2L781.9,285.2L782.6,285.2L782.6,287.9L783.8,287.9L783.8,287.9L784.3,287.9L784.3,292L786,292L786,290.3L786.9,290.3L786.9,290.3L787.7,290.3L787.7,297.4L789,297.4L789,297.4L789.4,297.4L789.4,299.7L790,299.7L790,299.7L791.1,299.7L791.1,310.8L792.8,310.8L792.8,310.8L792.8,310.8L792.8,313.9L794.5,313.9L794.5,311.4L795,311.4L795,311.4L796.2,311.4L796.2,305.3L797.6,305.3L797.6,305.3L797.9,305.3L797.9,314.2L799,314.2L799,314.2L799.6,314.2L799.6,315.7L800.7,315.7L800.7,315.7L801.3,315.7L801.3,318.1L802.6,318.1L802.6,318.1L803,318.1L803,317.6L804.7,317.6L804.7,321.9L806.4,321.9L806.4,323.7L806.5,323.7L806.5,323.7L807,323.7L807,323.7L808.1,323.7L808.1,326.1L809.8,326.1L809.8,327.7L809.9,327.7L809.9,327.7L811,327.7L811,327.7L811.5,327.7L811.5,324.4L813.2,324.4L813.2,322.9L813.4,322.9L813.4,322.9L814.9,322.9L814.9,327L815.1,327L815.1,327L815.8,327L815.8,327L816.6,327L816.6,328.4L817.6,328.4L817.6,328.4L818.3,328.4L818.3,337.1L820,337.1L820,334.1L820.5,334.1L820.5,334.1L821.4,334.1L821.4,334.1L821.7,334.1L821.7,334.5L822.8,334.5L822.8,334.5L823.4,334.5L823.4,333.3L824.2,333.3L824.2,333.3L825.1,333.3L825.1,336.6L826.8,336.6L826.8,335L827,335L827,335L828.5,335L828.5,338.1L829.8,338.1L829.8,338.1L830.2,338.1L830.2,337.3L831.9,337.3L831.9,351.8L832,351.8L832,351.8L833.6,351.8L833.6,351.6L834.5,351.6L834.5,351.6L835.3,351.6L835.3,356.4L837,356.4L837,355.1L838.7,355.1L838.7,358.6L839.7,358.6L839.7,358.6L840.4,358.6L840.4,363.4L842.1,363.4L842.1,366L842.5,366L842.5,366L843.8,366L843.8,364.2L844.8,364.2L844.8,364.2L845.5,364.2L845.5,362.3L847.2,362.3L847.2,364.1L847.7,364.1L847.7,364.1L848.9,364.1L848.9,368.2L850.5,368.2L850.5,368.2L850.6,368.2L850.6,367.4L852.3,367.4L852.3,372.9L852.4,372.9L852.4,372.9L854,372.9L854,369.8L855.7,369.8L855.7,373.5L857,373.5L857,366.7L857.4,366.7L857.4,366.7L859,366.7L859,378.3L859.1,378.3L859.1,377L860.8,377L860.8,373.7L862.5,373.7L862.5,380L864.2,380L864.2,378.2L865.5,378.2L865.5,368L865.9,368L865.9,368L867.5,368L867.5,379.6L867.6,379.6L867.6,381.1L869.3,381.1L869.3,380.1L871,380.1L871,383L872.7,383L872.7,385.1L874.4,385.1L874.4,384.1L874.6,384.1L874.6,369.2L876.1,369.2L876.1,369.2L876.6,369.2L876.6,386.1L877.8,386.1L877.8,389.3L879.5,389.3L879.5,386.6L881.2,386.6L881.2,389.3L882,389.3L882,374.5L882.9,374.5L882.9,374.5L884,374.5L884,388.8L884.6,388.8L884.6,390.2L886.3,390.2L886.3,390.7L888,390.7L888,390.5L889.7,390.5L889.7,390.7L891.4,390.7L891.4,394.7L891.6,394.7L891.6,373.9L893.1,373.9L893.1,373.9L893.6,373.9L893.6,393.1L894.8,393.1L894.8,394.7L896.5,394.7L896.5,394.4L898.2,394.4L898.2,398L899.6,398L899.6,386.1L899.9,386.1L899.9,386.1L901.6,386.1L901.6,394.8L901.6,394.8L901.6,394.9L903.3,394.9L903.3,397.3L905,397.3L905,395.8L906.7,395.8L906.7,398.1L908.4,398.1L908.4,396.2L909.7,396.2L909.7,389L910.1,389L910.1,389L911.7,389L911.7,397.5L911.8,397.5L911.8,397.9L913.5,397.9L913.5,400L915.2,400L915.2,399.4L916.9,399.4L916.9,399.5L917,399.5L917,390.8L918.6,390.8L918.6,390.8L919,390.8L919,400L920.3,400L920.3,401.4L922,401.4L922,401.2L923.7,401.2L923.7,401.4L924,401.4L924,391.4L925.4,391.4L925.4,391.4L926,391.4L926,403.1L927.1,403.1L927.1,404L928.8,404L928.8,404.9L930.5,404.9L930.5,405.7L932.2,405.7L932.2,405.6L933.9,405.6L933.9,406.8L935.6,406.8L935.6,406.3L936,406.3L936,400.9L937.3,400.9L937.3,400.9L938,400.9L938,407.9L939,407.9L939,407.6L940.7,407.6L940.7,409.3L941,409.3L941,402.9L942.4,402.9L942.4,402.9L943,402.9L943,410L944,410L944,404.8L944.1,404.8L944.1,404.8L945.8,404.8L945.8,404.8L946,404.8L946,411.4L947.5,411.4L947.5,412.4L949.2,412.4L949.2,412.5L950.9,412.5L950.9,413.8L952.6,413.8L952.6,413.2L954.3,413.2L954.3,413.7L956,413.7L956,413.1L957.7,413.1L957.7,414.5L959,414.5L959,409.2L959.4,409.2L959.4,409.2L961,409.2L961,415.1L961.1,415.1L961.1,414.2L962.8,414.2L962.8,415.8L964.5,415.8L964.5,415.4L966.2,415.4L966.2,415.5L967.9,415.5L967.9,415.5L969,415.5L969,410.2L969.6,410.2L969.6,410.2L971,410.2L971,415.4L971.3,415.4L971.3,415.3L973,415.3L973,415.8L974.7,415.8L974.7,415.8L975.8,415.8L975.8,399.1L976.4,399.1L976.4,399.1L977.8,399.1L977.8,416.6L978.1,416.6L978.1,414.9L979.8,414.9L979.8,410.4L981.5,410.4L981.5,410.6L983.2,410.6L983.2,410.4L984.9,410.4L984.9,410.8L986.6,410.8L986.6,406.5L986.6,406.5L986.6,406.5L988.3,406.5L988.3,406.5L988.6,406.5L988.6,409.9L990,409.9L990,411.2L991.7,411.2L991.7,409.7L993.4,409.7L993.4,409.7L993.6,409.7L993.6,399.3L995.1,399.3L995.1,399.3L995.6,399.3L995.6,410.3L996.8,410.3L996.8,410.6L998.5,410.6L998.5,409.4L1000.2,409.4L1000.2,409.8L1001.9,409.8L1001.9,408.5L1003.6,408.5L1003.6,410.5L1004.7,410.5L1004.7,405L1005.3,405L1005.3,405L1006.7,405L1006.7,410.5L1007,410.5L1007,409.9L1008.7,409.9L1008.7,411.3L1010.4,411.3L1010.4,411L1011,411L1011,405.4L1012.1,405.4L1012.1,405.4L1013,405.4L1013,411.4L1013.8,411.4L1013.8,409.9L1015.5,409.9L1015.5,411.3L1017.2,411.3L1017.2,411.4L1018.4,411.4L1018.4,403.8L1018.9,403.8L1018.9,403.8L1020.4,403.8L1020.4,411.3L1020.6,411.3L1020.6,410.9L1022.3,410.9L1022.3,411.2L1024,411.2L1024,412.2L1025.7,412.2L1025.7,413.3L1027.4,413.3L1027.4,412.9L1028.5,412.9L1028.5,404.6L1029.1,404.6L1029.1,404.6L1030.5,404.6L1030.5,413L1030.8,413L1030.8,413.6L1032.5,413.6L1032.5,412.8L1034.2,412.8L1034.2,412.7L1035.9,412.7L1035.9,413.7L1037.6,413.7L1037.6,414.1L1039,414.1L1039,410.6L1039.3,410.6L1039.3,410.6L1041,410.6L1041,414L1041,414L1041,413L1042.7,413L1042.7,414.5L1044.4,414.5L1044.4,415.1L1046,415.1L1046,410L1046.1,410L1046.1,410L1047.8,410L1047.8,410L1048,410L1048,414.9L1049.5,414.9L1049.5,415.6L1051.2,415.6L1051.2,416.3L1052.9,416.3L1052.9,416.6L1054.6,416.6L1054.6,416.3L1056.3,416.3L1056.3,415.9L1057.3,415.9L1057.3,397.6L1058,397.6L1058,397.6L1059.3,397.6L1059.3,415.5L1059.7,415.5L1059.7,415.8L1061.4,415.8L1061.4,414.9L1063.1,414.9L1063.1,415.6L1064.8,415.6L1064.8,415.6L1066,415.6L1066,409.8L1066.5,409.8L1066.5,409.8L1068,409.8L1068,415L1068.2,415L1068.2,415.2L1069.9,415.2L1069.9,415.2L1071.6,415.2L1071.6,413.9L1073.3,413.9L1073.3,414.6L1075,414.6L1075,415L1075.3,415L1075.3,401.1L1076.7,401.1L1076.7,401.1L1077.3,401.1L1077.3,419.2L1078.4,419.2L1078.4,419.4L1080.1,419.4L1080.1,419.1L1081.8,419.1L1081.8,418.8L1083.5,418.8L1083.5,418.2L1084,418.2L1084,412.8L1085.2,412.8L1085.2,412.8L1086,412.8L1086,419.1L1086.9,419.1L1086.9,419.9L1088.6,419.9L1088.6,418.6L1090.3,418.6L1090.3,418.3L1092,418.3L1092,420.2L1092.4,420.2L1092.4,410.2L1093.7,410.2L1093.7,410.2L1094.4,410.2L1094.4,419.6L1095.4,419.6L1095.4,420L1097.1,420L1097.1,419.7L1098.8,419.7L1098.8,419.8L1100.5,419.8L1100.5,420.1L1101,420.1L1101,416.5L1102.2,416.5L1102.2,416.5L1103,416.5L1103,419.3L1103.9,419.3L1103.9,419.6L1105.6,419.6L1105.6,419.8L1107.3,419.8L1107.3,421.2L1109,421.2L1109,420.8L1110,420.8L1110,414.3L1110.7,414.3L1110.7,414.3L1112,414.3L1112,421L1112.4,421L1112.4,421.5L1114.1,421.5L1114.1,421.7L1115.8,421.7L1115.8,421.8L1117.5,421.8L1117.5,421.9L1119,421.9L1119,420.4L1119.2,420.4L1119.2,420.4L1120.9,420.4L1120.9,420.4L1121,420.4L1121,423.6L1122.6,423.6L1122.6,422.9L1124.3,422.9L1124.3,423.2L1126,423.2L1126,423.9L1127.7,423.9L1127.7,424L1128,424L1128,417.3L1129.4,417.3L1129.4,417.3L1130,417.3L1130,423.9L1131.1,423.9L1131.1,424L1132.8,424L1132.8,424.4L1134.5,424.4L1134.5,425.2L1136.2,425.2L1136.2,425L1136.5,425L1136.5,422.1L1137.9,422.1L1137.9,422.1L1138.5,422.1L1138.5,425.2L1139.6,425.2L1139.6,425.7L1141.3,425.7L1141.3,426L1143,426L1143,425.9L1144.7,425.9L1144.7,426L1145.8,426L1145.8,424.1L1146.4,424.1L1146.4,424.1L1147.8,424.1L1147.8,426.5L1148.1,426.5L1148.1,426.9L1149.8,426.9L1149.8,426.7L1151.5,426.7L1151.5,426.8L1153.2,426.8L1153.2,427L1154.9,427L1154.9,427.6L1156.6,427.6L1156.6,427.8L1158.3,427.8L1158.3,428L1160,428L1160,427.9L1161.7,427.9L1161.7,428.1L1163.4,428.1L1163.4,428.5L1164,428.5L1164,427.5L1165.1,427.5L1165.1,427.5L1166,427.5L1166,428.5L1166.8,428.5L1166.8,428.8L1168.5,428.8L1168.5,428.7L1170.2,428.7L1170.2,429.1L1171.9,429.1L1171.9,429.4L1173.6,429.4L1173.6,429.4L1175.3,429.4L1175.3,429.8L1177,429.8L1177,429.6L1178.7,429.6L1178.7,429.9L1180.4,429.9L1180.4,430L1180.9,430L1180.9,427.1L1182.1,427.1L1182.1,427.1L1182.9,427.1L1182.9,430.2L1183.8,430.2L1183.8,430.2L1185.5,430.2L1185.5,430.5L1187.2,430.5L1187.2,430.6L1188.9,430.6L1188.9,430.8L1190.6,430.8L1190.6,430.9L1192.3,430.9L1192.3,431.1L1194,431.1L1194,431.2L1195.7,431.2L1195.7,431.3L1197.4,431.3L1197.4,431.5L1199.1,431.5L1199.1,431.6L1200.8,431.6L1200.8,431.7L1202.5,431.7L1202.5,431.8L1204.2,431.8L1204.2,432L1205.9,432L1205.9,432.1L1207.6,432.1L1207.6,432.2L1209.3,432.2L1209.3,432.4L1211,432.4L1211,432.6L1212.7,432.6L1212.7,432.7L1214.4,432.7L1214.4,432.8L1215,432.8L1215,432.8Z" fill="#f4b01f"/>
<line x1="55" y1="433.5" x2="1215.8" y2="433.5" stroke="#160404" stroke-width="1.2"/>
<polygon points="55,161.5 75,161.8 90,162.6 115,164.6 140,167.1 165,170.6 190,176.3 215,183.9 240,191.4 265,198.1 290,206.4 315,214.7 340,222.7 360,229.7 380,240 400,254 420,270.5 437,290 454,312 470,345 485,377 496,400 500.4,408.5 510,413 520,417 533,422 550,425.5 570,428.5 590,431 597,432.6 597,432.8 55,432.8" fill="rgba(71,97,106,0.31)"/>
<polyline points="55,161.5 75,161.8 90,162.6 115,164.6 140,167.1 165,170.6 190,176.3 215,183.9 240,191.4 265,198.1 290,206.4 315,214.7 340,222.7 360,229.7 380,240 400,254 420,270.5 437,290 454,312 470,345 485,377 496,400 500.4,408.5 510,413 520,417 533,422 550,425.5 570,428.5 590,431 597,432.6" fill="none" stroke="#9fdca8" stroke-width="1.2"/>
<polygon points="600,432.6 664,432.6 682,432.2 690,431.6 700,425.8 715,414 728,406 740,397 755,384 765,375.9 770.3,371 780,352 790,331 796.6,312 805,297 815.4,281 824,269 833,258.7 845,243.5 853,236 865,225 878,216 890,208.5 903,201 915,196 928,192 940,188.2 965,180.2 990,172.7 1015,163.9 1040,157.1 1065,151.4 1090,145.6 1115,140.6 1140,137.6 1165,135.6 1190,134.6 1215,134.3 1215,432.8 600,432.8" fill="rgba(245,40,48,0.125)"/>
<line x1="54.3" y1="432.7" x2="690" y2="432.7" stroke="#c4261c" stroke-width="1.1"/>
<polyline points="682,432.2 690,431.6 700,425.8 715,414 728,406 740,397 755,384 765,375.9 770.3,371 780,352 790,331 796.6,312 805,297 815.4,281 824,269 833,258.7 845,243.5 853,236 865,225 878,216 890,208.5 903,201 915,196 928,192 940,188.2 965,180.2 990,172.7 1015,163.9 1040,157.1 1065,151.4 1090,145.6 1115,140.6 1140,137.6 1165,135.6 1190,134.6 1215,134.3" fill="none" stroke="#e0343c" stroke-opacity=".72" stroke-width="1.1"/>
<line x1="600.5" y1="433" x2="600.5" y2="70" stroke="#e6202d" stroke-width="3" stroke-dasharray="12 6"/>
<path d="M600.5,63 L605.7,78.8 L600.5,74.8 L595.3,78.8 Z" fill="#e6202d"/>
<circle cx="600.1" cy="433" r="4" fill="#f0202e"/>
<!-- data zoom slider -->
<rect x="56.5" y="459" width="1158" height="39.5" fill="#eef1fb"/>
<path d="M56.5,498 L56.5,479 C300,481 500,485 700,490 S1000,495.5 1214.5,497.5 L1214.5,498.5 L56.5,498.5 Z" fill="#e3e8f7"/>
<line x1="56.5" y1="458.5" x2="56.5" y2="498.5" stroke="#acb8d1" stroke-width="1"/>
<line x1="1214.5" y1="458.5" x2="1214.5" y2="498.5" stroke="#acb8d1" stroke-width="1"/>
<rect x="52" y="466.5" width="9" height="25.5" rx="2.2" fill="#a9b8cf"/>
<rect x="1210" y="466.5" width="9" height="25.5" rx="2.2" fill="#a9b8cf"/>
<!-- camera icon -->
<g fill="none" stroke="#222" stroke-width="1.25" stroke-linejoin="round">
<path d="M1260.9,10.9 H1263.2 L1264.6,8.6 H1269.6 L1271,10.9 H1273.2 a1,1 0 0 1 1,1 V19.4 a1,1 0 0 1 -1,1 H1260.9 a1,1 0 0 1 -1,-1 V11.9 a1,1 0 0 1 1,-1 Z"/>
<circle cx="1267.1" cy="15.4" r="2.3"/>
</g>
</svg>
<div class="sw" style="left:1027px;background:#f5a623"></div><div class="lg" style="left:1056px">Binance</div>
<div class="sw" style="left:1112px;background:#aee468"></div><div class="lg" style="left:1141.3px">Bybit</div>
<div class="sw" style="left:1181px;background:#6495ed"></div><div class="lg" style="left:1211.1px">Okex</div>
<div class="mk">$71900</div>
<div class="yl" style="top:424.1px">0.00</div>
<div class="yl" style="top:362.43px">300.00M</div>
<div class="yl" style="top:300.76px">600.00M</div>
<div class="yl" style="top:239.09px">900.00M</div>
<div class="yl" style="top:177.42px">1.20B</div>
<div class="yl" style="top:115.75px">1.50B</div>
<div class="yl" style="top:54.08px">1.80B</div>
<div class="yr" style="top:424.1px">0.00</div>
<div class="yr" style="top:350.1px">500.00M</div>
<div class="yr" style="top:276.1px">1.00B</div>
<div class="yr" style="top:202.1px">1.50B</div>
<div class="yr" style="top:128.1px">2.00B</div>
<div class="yr" style="top:54.1px">2.50B</div>
<div class="xl" style="left:25.1px">68690</div>
<div class="xl" style="left:70.876px">68959</div>
<div class="xl" style="left:116.652px">69228</div>
<div class="xl" style="left:162.428px">69497</div>
<div class="xl" style="left:208.204px">69766</div>
<div class="xl" style="left:253.98px">70035</div>
<div class="xl" style="left:299.756px">70304</div>
<div class="xl" style="left:345.532px">70573</div>
<div class="xl" style="left:391.308px">70842</div>
<div class="xl" style="left:437.084px">71111</div>
<div class="xl" style="left:482.86px">71380</div>
<div class="xl" style="left:528.636px">71649</div>
<div class="xl" style="left:574.412px">71918</div>
<div class="xl" style="left:620.188px">72187</div>
<div class="xl" style="left:665.964px">72456</div>
<div class="xl" style="left:711.74px">72725</div>
<div class="xl" style="left:757.516px">72994</div>
<div class="xl" style="left:803.292px">73263</div>
<div class="xl" style="left:849.068px">73532</div>
<div class="xl" style="left:894.844px">73801</div>
<div class="xl" style="left:940.62px">74070</div>
<div class="xl" style="left:986.396px">74339</div>
<div class="xl" style="left:1032.17px">74608</div>
<div class="xl" style="left:1077.95px">74877</div>
<div class="xl" style="left:1123.72px">75146</div>
<div class="xl" style="left:1169.5px">75415</div>
</body></html>
